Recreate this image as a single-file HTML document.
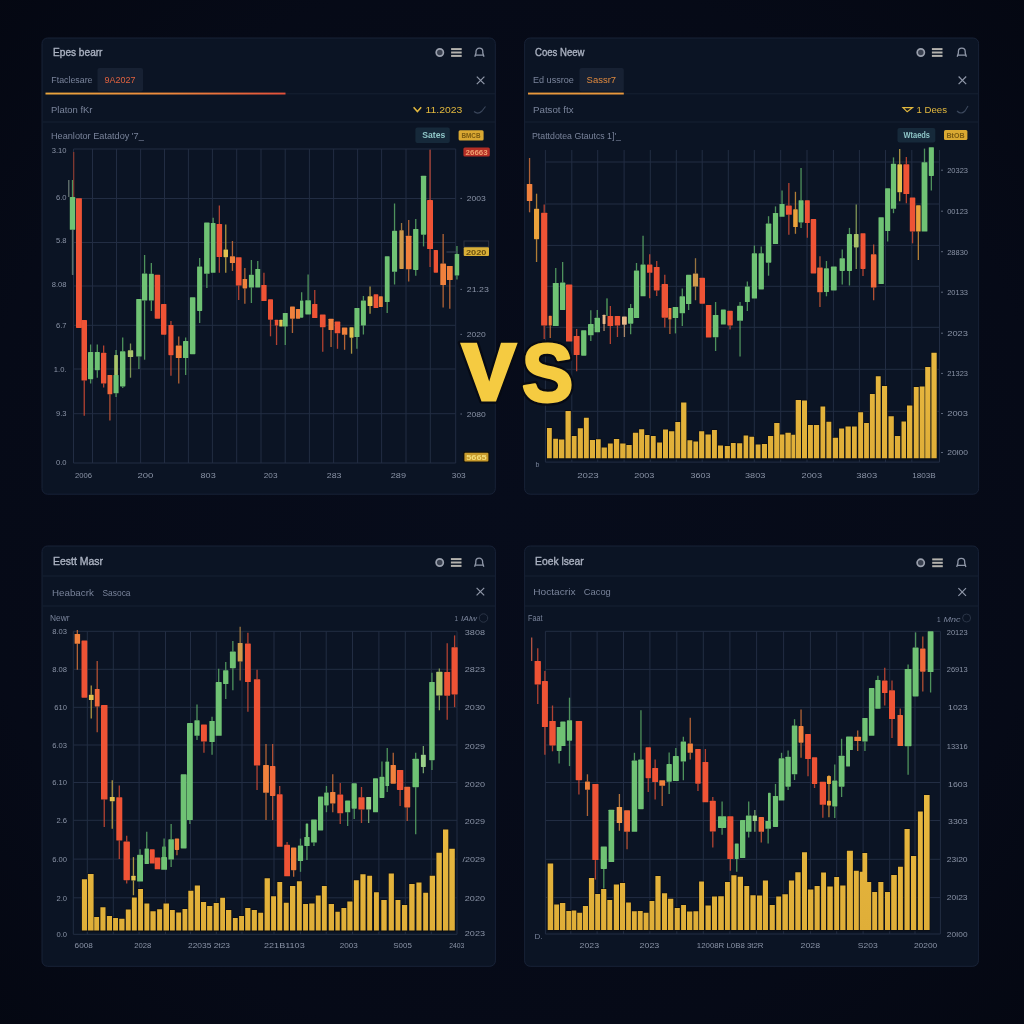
<!DOCTYPE html>
<html><head><meta charset="utf-8"><title>Chart comparison</title>
<style>html,body{margin:0;padding:0;background:#060a15;}body{width:1024px;height:1024px;overflow:hidden;font-family:"Liberation Sans",sans-serif;}svg{display:block;filter:blur(0.4px);}</style>
</head><body>
<svg width="1024" height="1024" viewBox="0 0 1024 1024" font-family="Liberation Sans, sans-serif">
<defs>
<radialGradient id="bgv" cx="50%" cy="50%" r="75%"><stop offset="0" stop-color="#070c1b"/><stop offset="0.7" stop-color="#060a17"/><stop offset="1" stop-color="#040711"/></radialGradient>
<linearGradient id="vg" x1="0" y1="0" x2="0" y2="1"><stop offset="0" stop-color="#e8b840"/><stop offset="1" stop-color="#dfae38"/></linearGradient>
<linearGradient id="ol" x1="0" y1="0" x2="1" y2="0"><stop offset="0" stop-color="#e9a53c"/><stop offset="0.5" stop-color="#ee8a3c"/><stop offset="1" stop-color="#e4503a"/></linearGradient>
</defs>
<rect width="1024" height="1024" fill="url(#bgv)"/>
<rect x="42" y="38" width="453.3" height="456.2" rx="5.5" fill="#0b1424" stroke="#182237" stroke-width="1"/>
<text x="53" y="55.6" font-size="10.3" fill="#aab1c0" text-anchor="start" font-weight="normal" textLength="49.5" lengthAdjust="spacingAndGlyphs" stroke="#aab1c0" stroke-width="0.35">Epes bearr</text>
<circle cx="439.8" cy="52.5" r="3.6" fill="#3a4150" stroke="#9aa0ad" stroke-width="1.7"/>
<path d="M451.1 49.1H461.7" stroke="#b5b3ae" stroke-width="2"/>
<path d="M451.1 52.5H461.7" stroke="#b5b3ae" stroke-width="2"/>
<path d="M451.1 55.9H461.7" stroke="#b5b3ae" stroke-width="2"/>
<path d="M474.8 56.7L476 53V51.5A3.4 3.4 0 0 1 482.8 51.5V53L484 56.7M474.8 55.1H484" stroke="#8f97a8" stroke-width="1.3" fill="none" stroke-linejoin="round"/>
<path d="M476.8 76.6L484.4 84.2M484.4 76.6L476.8 84.2" stroke="#8f97a8" stroke-width="1.2"/>
<rect x="97.5" y="68" width="45.5" height="23.5" rx="2" fill="#172133"/>
<text x="51.3" y="83.3" font-size="9.6" fill="#79839a" text-anchor="start" font-weight="normal" textLength="41.2" lengthAdjust="spacingAndGlyphs">Ftaclesare</text>
<text x="104.5" y="83.3" font-size="9" fill="#e0623f" text-anchor="start" font-weight="normal" textLength="31" lengthAdjust="spacingAndGlyphs">9A2027</text>
<path d="M45.5 93.8H495" stroke="#162033" stroke-width="1"/>
<rect x="45.5" y="92.6" width="240" height="1.9" fill="url(#ol)"/>
<text x="51" y="113" font-size="9.6" fill="#79839a" text-anchor="start" font-weight="normal" textLength="41.5" lengthAdjust="spacingAndGlyphs">Platon fKr</text>
<text x="425.5" y="113.2" font-size="9.6" fill="#e2b83e" text-anchor="start" font-weight="normal" textLength="36.8" lengthAdjust="spacingAndGlyphs">11.2023</text>
<path d="M413.6 107.2L417.4 111.6L421.2 107.2" stroke="#e2b83e" stroke-width="1.5" fill="none"/>
<path d="M474 111.5q4 3.5 8 -0.5l3.5 -4.5" stroke="#3b475c" stroke-width="1.1" fill="none"/>
<path d="M42.5 122H495" stroke="#162033" stroke-width="1"/>
<text x="51" y="139.2" font-size="9.3" fill="#79839a" text-anchor="start" font-weight="normal" textLength="92.8" lengthAdjust="spacingAndGlyphs">Heanlotor Eatatdoy '7_</text>
<rect x="415.4" y="127.6" width="34.4" height="15.4" rx="2" fill="#16293a"/>
<text x="422.3" y="138.3" font-size="8.4" fill="#8fc6c8" text-anchor="start" font-weight="bold" textLength="23" lengthAdjust="spacingAndGlyphs">Sates</text>
<rect x="458.6" y="130.2" width="25" height="10.2" rx="1.5" fill="#d9a832"/>
<text x="461.5" y="138.2" font-size="6.6" fill="#7a5a12" text-anchor="start" font-weight="bold" textLength="19" lengthAdjust="spacingAndGlyphs">BMCB</text>
<rect x="463.4" y="147.6" width="26.4" height="9" rx="1.5" fill="#b42e26"/>
<text x="465.6" y="155" font-size="6.6" fill="#f0a070" text-anchor="start" font-weight="bold" textLength="22" lengthAdjust="spacingAndGlyphs">26663</text>
<path d="M73.5 149V463M92.5 149V463M116.5 149V463M140.6 149V463M164.5 149V463M188.4 149V463M212.4 149V463M236.7 149V463M261 149V463M285.2 149V463M309.4 149V463M333.6 149V463M357.6 149V463M381.6 149V463M406 149V463M430.3 149V463M455.7 149V463M73.5 149H455.7M73.5 198.5H455.7M73.5 242.5H455.7M73.5 286H455.7M73.5 325.3H455.7M73.5 369H455.7M73.5 413.7H455.7M73.5 463H455.7" stroke="#222d43" stroke-width="1" fill="none"/>
<path d="M72.5 180V197" stroke="#5aa866" stroke-width="1.3" opacity="0.85"/>
<path d="M72.5 229.8V274.8" stroke="#5aa866" stroke-width="1.3" opacity="0.85"/>
<path d="M84.25 380.6V415.7" stroke="#cf4a34" stroke-width="1.3" opacity="0.85"/>
<path d="M90.6 344.5V351.9" stroke="#5aa866" stroke-width="1.3" opacity="0.85"/>
<path d="M90.6 379.2V383.5" stroke="#5aa866" stroke-width="1.3" opacity="0.85"/>
<path d="M97.3 344.5V351.9" stroke="#5aa866" stroke-width="1.3" opacity="0.85"/>
<path d="M97.3 370.2V377.7" stroke="#5aa866" stroke-width="1.3" opacity="0.85"/>
<path d="M103.65 345.4V352.7" stroke="#cf4a34" stroke-width="1.3" opacity="0.85"/>
<path d="M103.65 383.5V387.4" stroke="#cf4a34" stroke-width="1.3" opacity="0.85"/>
<path d="M109.9 394.3V420.6" stroke="#cf5a36" stroke-width="1.3" opacity="0.85"/>
<path d="M116.05 350V375" stroke="#5aa866" stroke-width="1.3" opacity="0.85"/>
<path d="M116.05 393.3V397" stroke="#5aa866" stroke-width="1.3" opacity="0.85"/>
<path d="M122.7 337.6V351.3" stroke="#5aa866" stroke-width="1.3" opacity="0.85"/>
<path d="M122.7 386.4V388" stroke="#5aa866" stroke-width="1.3" opacity="0.85"/>
<path d="M130.5 343.5V350.3" stroke="#93ab5e" stroke-width="1.3" opacity="0.85"/>
<path d="M130.5 357V377.7" stroke="#93ab5e" stroke-width="1.3" opacity="0.85"/>
<path d="M138.9 356.6V368.9" stroke="#5aa866" stroke-width="1.3" opacity="0.85"/>
<path d="M144.6 255V273.4" stroke="#5aa866" stroke-width="1.3" opacity="0.85"/>
<path d="M144.6 300.5V359.7" stroke="#5aa866" stroke-width="1.3" opacity="0.85"/>
<path d="M151.35 263V273.8" stroke="#5aa866" stroke-width="1.3" opacity="0.85"/>
<path d="M151.35 300.5V311" stroke="#5aa866" stroke-width="1.3" opacity="0.85"/>
<path d="M170.95 321V325" stroke="#cf4a34" stroke-width="1.3" opacity="0.85"/>
<path d="M170.95 355.2V375.7" stroke="#cf4a34" stroke-width="1.3" opacity="0.85"/>
<path d="M178.75 336.6V345.4" stroke="#cf7038" stroke-width="1.3" opacity="0.85"/>
<path d="M178.75 358.1V383.5" stroke="#cf7038" stroke-width="1.3" opacity="0.85"/>
<path d="M185.65 337.6V341" stroke="#5aa866" stroke-width="1.3" opacity="0.85"/>
<path d="M185.65 358V375" stroke="#5aa866" stroke-width="1.3" opacity="0.85"/>
<path d="M199.65 258V266.4" stroke="#5aa866" stroke-width="1.3" opacity="0.85"/>
<path d="M199.65 310.9V323" stroke="#5aa866" stroke-width="1.3" opacity="0.85"/>
<path d="M206.85 273.8V288" stroke="#5aa866" stroke-width="1.3" opacity="0.85"/>
<path d="M213.15 217.7V223" stroke="#5aa866" stroke-width="1.3" opacity="0.85"/>
<path d="M219.35 205.4V224" stroke="#cf4a34" stroke-width="1.3" opacity="0.85"/>
<path d="M219.35 257V272.8" stroke="#cf4a34" stroke-width="1.3" opacity="0.85"/>
<path d="M225.75 224.4V249.4" stroke="#c8ac48" stroke-width="1.3" opacity="0.85"/>
<path d="M225.75 257.2V272.8" stroke="#c8ac48" stroke-width="1.3" opacity="0.85"/>
<path d="M232.45 241V256.2" stroke="#cf7038" stroke-width="1.3" opacity="0.85"/>
<path d="M232.45 263V270.9" stroke="#cf7038" stroke-width="1.3" opacity="0.85"/>
<path d="M238.7 285.5V300" stroke="#cf4a34" stroke-width="1.3" opacity="0.85"/>
<path d="M244.85 268V279" stroke="#cf7038" stroke-width="1.3" opacity="0.85"/>
<path d="M244.85 288.4V303.7" stroke="#cf7038" stroke-width="1.3" opacity="0.85"/>
<path d="M251.4 260V274.8" stroke="#5aa866" stroke-width="1.3" opacity="0.85"/>
<path d="M251.4 287.5V303" stroke="#5aa866" stroke-width="1.3" opacity="0.85"/>
<path d="M257.75 261V268.9" stroke="#5aa866" stroke-width="1.3" opacity="0.85"/>
<path d="M263.95 272.8V284.9" stroke="#cf4a34" stroke-width="1.3" opacity="0.85"/>
<path d="M270.5 319.7V336.3" stroke="#cf4a34" stroke-width="1.3" opacity="0.85"/>
<path d="M276.55 325.5V345" stroke="#cf4a34" stroke-width="1.3" opacity="0.85"/>
<path d="M285.25 326.5V345" stroke="#5aa866" stroke-width="1.3" opacity="0.85"/>
<path d="M292.45 318.7V333" stroke="#cf7038" stroke-width="1.3" opacity="0.85"/>
<path d="M301.65 292.3V300.5" stroke="#5aa866" stroke-width="1.3" opacity="0.85"/>
<path d="M308.1 274.4V300.2" stroke="#5aa866" stroke-width="1.3" opacity="0.85"/>
<path d="M314.75 290V304" stroke="#cf4a34" stroke-width="1.3" opacity="0.85"/>
<path d="M322.75 327.3V351.8" stroke="#cf4a34" stroke-width="1.3" opacity="0.85"/>
<path d="M331.05 330V346.9" stroke="#cf7038" stroke-width="1.3" opacity="0.85"/>
<path d="M337.5 333.3V348.8" stroke="#cf4a34" stroke-width="1.3" opacity="0.85"/>
<path d="M344.6 334.8V349.8" stroke="#cf7038" stroke-width="1.3" opacity="0.85"/>
<path d="M351.55 337.7V353.7" stroke="#c8ac48" stroke-width="1.3" opacity="0.85"/>
<path d="M356.95 337V348.8" stroke="#5aa866" stroke-width="1.3" opacity="0.85"/>
<path d="M363.4 296V300.5" stroke="#5aa866" stroke-width="1.3" opacity="0.85"/>
<path d="M363.4 325.4V334.5" stroke="#5aa866" stroke-width="1.3" opacity="0.85"/>
<path d="M370.05 286.5V296.3" stroke="#c8ac48" stroke-width="1.3" opacity="0.85"/>
<path d="M370.05 306V313.8" stroke="#c8ac48" stroke-width="1.3" opacity="0.85"/>
<path d="M387.2 302.1V312.9" stroke="#5aa866" stroke-width="1.3" opacity="0.85"/>
<path d="M394.55 203.5V230.8" stroke="#5aa866" stroke-width="1.3" opacity="0.85"/>
<path d="M394.55 271.8V284.5" stroke="#5aa866" stroke-width="1.3" opacity="0.85"/>
<path d="M401.55 223V230.2" stroke="#b08444" stroke-width="1.3" opacity="0.85"/>
<path d="M408.7 220V235.7" stroke="#cf7038" stroke-width="1.3" opacity="0.85"/>
<path d="M408.7 269.3V281.6" stroke="#cf7038" stroke-width="1.3" opacity="0.85"/>
<path d="M415.75 219.1V228.9" stroke="#5aa866" stroke-width="1.3" opacity="0.85"/>
<path d="M415.75 269.9V275.7" stroke="#5aa866" stroke-width="1.3" opacity="0.85"/>
<path d="M423.55 234.7V246.4" stroke="#5aa866" stroke-width="1.3" opacity="0.85"/>
<path d="M430.05 149.8V200" stroke="#cf4a34" stroke-width="1.3" opacity="0.85"/>
<path d="M430.05 249V267" stroke="#cf4a34" stroke-width="1.3" opacity="0.85"/>
<path d="M443.15 234V263.5" stroke="#cf7038" stroke-width="1.3" opacity="0.85"/>
<path d="M443.15 285V307.5" stroke="#cf7038" stroke-width="1.3" opacity="0.85"/>
<path d="M449.8 280V308.7" stroke="#cf7038" stroke-width="1.3" opacity="0.85"/>
<path d="M456.95 246V254" stroke="#5aa866" stroke-width="1.3" opacity="0.85"/>
<path d="M456.95 275.5V279.4" stroke="#5aa866" stroke-width="1.3" opacity="0.85"/>
<path d="M73.7 152V197" stroke="#8a3a30" stroke-width="1.2"/>
<path d="M68.8 180V197" stroke="#6f7f78" stroke-width="1.2"/>
<path d="M72.7 230V275" stroke="#5c6870" stroke-width="1.2"/>
<rect x="69.8" y="197" width="5.4" height="32.8" rx="0.6" fill="#6fc274"/>
<rect x="76" y="198.2" width="5.9" height="129.7" rx="0.6" fill="#ee5335"/>
<rect x="81.5" y="320" width="5.5" height="60.6" rx="0.6" fill="#ee5335"/>
<rect x="88" y="351.9" width="5.2" height="27.3" rx="0.6" fill="#6fc274"/>
<rect x="94.8" y="351.9" width="5" height="18.3" rx="0.6" fill="#6fc274"/>
<rect x="101" y="352.7" width="5.3" height="30.8" rx="0.6" fill="#ee5335"/>
<rect x="107.5" y="375" width="4.8" height="19.3" rx="0.6" fill="#f0683a"/>
<rect x="113.5" y="375" width="5.1" height="18.3" rx="0.6" fill="#6fc274"/>
<rect x="114.2" y="355" width="3.7" height="20" rx="0.6" fill="#a9c46a"/>
<rect x="120" y="351.3" width="5.4" height="35.1" rx="0.6" fill="#6fc274"/>
<rect x="127.8" y="350.3" width="5.4" height="6.7" rx="0.6" fill="#a9c46a"/>
<rect x="136.2" y="299" width="5.4" height="57.6" rx="0.6" fill="#6fc274"/>
<rect x="141.9" y="273.4" width="5.4" height="27.1" rx="0.6" fill="#6fc274"/>
<rect x="148.9" y="273.8" width="4.9" height="26.7" rx="0.6" fill="#6fc274"/>
<rect x="154.7" y="274.8" width="5.5" height="43.9" rx="0.6" fill="#ee5335"/>
<rect x="161" y="304" width="5.4" height="30.7" rx="0.6" fill="#ee5335"/>
<rect x="168.4" y="325" width="5.1" height="30.2" rx="0.6" fill="#ee5335"/>
<rect x="175.8" y="345.4" width="5.9" height="12.7" rx="0.6" fill="#f0813d"/>
<rect x="183" y="341" width="5.3" height="17" rx="0.6" fill="#6fc274"/>
<rect x="189.9" y="297.2" width="5.5" height="57" rx="0.6" fill="#6fc274"/>
<rect x="197.1" y="266.4" width="5.1" height="44.5" rx="0.6" fill="#6fc274"/>
<rect x="204.1" y="222.6" width="5.5" height="51.2" rx="0.6" fill="#6fc274"/>
<rect x="210.8" y="223" width="4.7" height="49.8" rx="0.6" fill="#6fc274"/>
<rect x="216.6" y="224" width="5.5" height="33" rx="0.6" fill="#ee5335"/>
<rect x="223.5" y="249.4" width="4.5" height="7.8" rx="0.6" fill="#e3c350"/>
<rect x="229.9" y="256.2" width="5.1" height="6.8" rx="0.6" fill="#f0813d"/>
<rect x="235.8" y="257.2" width="5.8" height="28.3" rx="0.6" fill="#ee5335"/>
<rect x="242.6" y="279" width="4.5" height="9.4" rx="0.6" fill="#f0813d"/>
<rect x="248.9" y="274.8" width="5" height="12.7" rx="0.6" fill="#6fc274"/>
<rect x="255.3" y="268.9" width="4.9" height="18.6" rx="0.6" fill="#6fc274"/>
<rect x="261.3" y="284.9" width="5.3" height="16.2" rx="0.6" fill="#ee5335"/>
<rect x="268" y="299.2" width="5" height="20.5" rx="0.6" fill="#ee5335"/>
<rect x="274.8" y="319.7" width="3.5" height="5.8" rx="0.6" fill="#ee5335"/>
<rect x="279.3" y="319.7" width="3.3" height="6.8" rx="0.6" fill="#e3c350"/>
<rect x="282.8" y="312.9" width="4.9" height="13.6" rx="0.6" fill="#6fc274"/>
<rect x="290" y="306.6" width="4.9" height="12.1" rx="0.6" fill="#f0813d"/>
<rect x="295.9" y="309" width="4.3" height="9.7" rx="0.6" fill="#f0813d"/>
<rect x="300" y="300.5" width="3.3" height="17.2" rx="0.6" fill="#6fc274"/>
<rect x="305.3" y="300.2" width="5.6" height="14.2" rx="0.6" fill="#6fc274"/>
<rect x="312.1" y="304" width="5.3" height="14.1" rx="0.6" fill="#ee5335"/>
<rect x="319.9" y="314.4" width="5.7" height="12.9" rx="0.6" fill="#ee5335"/>
<rect x="328.5" y="318.7" width="5.1" height="11.3" rx="0.6" fill="#f0813d"/>
<rect x="334.7" y="321.6" width="5.6" height="11.7" rx="0.6" fill="#ee5335"/>
<rect x="341.9" y="327.4" width="5.4" height="7.4" rx="0.6" fill="#f0813d"/>
<rect x="349.5" y="327.2" width="4.1" height="10.5" rx="0.6" fill="#e3c350"/>
<rect x="354.4" y="308" width="5.1" height="29" rx="0.6" fill="#6fc274"/>
<rect x="360.9" y="300.5" width="5" height="24.9" rx="0.6" fill="#6fc274"/>
<rect x="367.6" y="296.3" width="4.9" height="9.7" rx="0.6" fill="#e3c350"/>
<rect x="373.6" y="294.3" width="4.7" height="13.7" rx="0.6" fill="#ee5335"/>
<rect x="378.9" y="296.3" width="3.9" height="10.7" rx="0.6" fill="#f0813d"/>
<rect x="384.8" y="256.2" width="4.8" height="45.9" rx="0.6" fill="#6fc274"/>
<rect x="392" y="230.8" width="5.1" height="41" rx="0.6" fill="#6fc274"/>
<rect x="399.4" y="230.2" width="4.3" height="38.7" rx="0.6" fill="#cf9a4c"/>
<rect x="405.9" y="235.7" width="5.6" height="33.6" rx="0.6" fill="#f0813d"/>
<rect x="413.1" y="228.9" width="5.3" height="41" rx="0.6" fill="#6fc274"/>
<rect x="420.9" y="175.7" width="5.3" height="59" rx="0.6" fill="#6fc274"/>
<rect x="427.1" y="200" width="5.9" height="49" rx="0.6" fill="#ee5335"/>
<rect x="433.7" y="250" width="4.3" height="22.7" rx="0.6" fill="#ee5335"/>
<rect x="440.3" y="263.5" width="5.7" height="21.5" rx="0.6" fill="#f0813d"/>
<rect x="446.9" y="266" width="5.8" height="14" rx="0.6" fill="#f0813d"/>
<rect x="454.7" y="254" width="4.5" height="21.5" rx="0.6" fill="#6fc274"/>
<text x="66.5" y="152.6" font-size="7.6" fill="#8a93a6" text-anchor="end" font-weight="normal">3.10</text>
<text x="66.5" y="199.8" font-size="7.6" fill="#8a93a6" text-anchor="end" font-weight="normal">6.0</text>
<text x="66.5" y="243" font-size="7.6" fill="#8a93a6" text-anchor="end" font-weight="normal">5.8</text>
<text x="66.5" y="287" font-size="7.6" fill="#8a93a6" text-anchor="end" font-weight="normal">8.08</text>
<text x="66.5" y="327.6" font-size="7.6" fill="#8a93a6" text-anchor="end" font-weight="normal">6.7</text>
<text x="66.5" y="371.5" font-size="7.6" fill="#8a93a6" text-anchor="end" font-weight="normal">1.0.</text>
<text x="66.5" y="416" font-size="7.6" fill="#8a93a6" text-anchor="end" font-weight="normal">9.3</text>
<text x="66.5" y="465.4" font-size="7.6" fill="#8a93a6" text-anchor="end" font-weight="normal">0.0</text>
<path d="M460.4 198.4H462" stroke="#5a6478" stroke-width="1"/>
<text x="466.8" y="201" font-size="7.8" fill="#8a93a6" text-anchor="start" font-weight="normal" textLength="19" lengthAdjust="spacingAndGlyphs">2003</text>
<path d="M460.4 289.4H462" stroke="#5a6478" stroke-width="1"/>
<text x="466.8" y="292" font-size="7.8" fill="#8a93a6" text-anchor="start" font-weight="normal" textLength="22" lengthAdjust="spacingAndGlyphs">21.23</text>
<path d="M460.4 334.4H462" stroke="#5a6478" stroke-width="1"/>
<text x="466.8" y="337" font-size="7.8" fill="#8a93a6" text-anchor="start" font-weight="normal" textLength="19" lengthAdjust="spacingAndGlyphs">2020</text>
<path d="M460.4 414H462" stroke="#5a6478" stroke-width="1"/>
<text x="466.8" y="416.6" font-size="7.8" fill="#8a93a6" text-anchor="start" font-weight="normal" textLength="19" lengthAdjust="spacingAndGlyphs">2080</text>
<rect x="464" y="241" width="24.6" height="6" fill="none" stroke="#2a3040" stroke-width="1"/>
<rect x="463.7" y="247.2" width="25.3" height="8.8" rx="1" fill="#d9b038"/>
<text x="466" y="254.6" font-size="6.8" fill="#6a5010" text-anchor="start" font-weight="bold" textLength="20.5" lengthAdjust="spacingAndGlyphs">2020</text>
<path d="M446.5 252H458" stroke="#3a4558" stroke-width="1"/>
<rect x="463.2" y="451.6" width="26.4" height="11" rx="1.5" fill="#11100c"/>
<rect x="464.4" y="452.8" width="24" height="8.6" rx="1" fill="#c79a2c"/>
<text x="466.2" y="460" font-size="6.8" fill="#f3dc78" text-anchor="start" font-weight="bold" textLength="20.5" lengthAdjust="spacingAndGlyphs">5665</text>
<text x="75" y="478.3" font-size="7.8" fill="#8a93a6" text-anchor="start" font-weight="normal" textLength="17" lengthAdjust="spacingAndGlyphs">2006</text>
<text x="137.5" y="478.3" font-size="7.8" fill="#8a93a6" text-anchor="start" font-weight="normal" textLength="15.9" lengthAdjust="spacingAndGlyphs">200</text>
<text x="200.6" y="478.3" font-size="7.8" fill="#8a93a6" text-anchor="start" font-weight="normal" textLength="15.1" lengthAdjust="spacingAndGlyphs">803</text>
<text x="263.8" y="478.3" font-size="7.8" fill="#8a93a6" text-anchor="start" font-weight="normal" textLength="13.7" lengthAdjust="spacingAndGlyphs">203</text>
<text x="326.8" y="478.3" font-size="7.8" fill="#8a93a6" text-anchor="start" font-weight="normal" textLength="14.6" lengthAdjust="spacingAndGlyphs">283</text>
<text x="390.8" y="478.3" font-size="7.8" fill="#8a93a6" text-anchor="start" font-weight="normal" textLength="15.2" lengthAdjust="spacingAndGlyphs">289</text>
<text x="451.8" y="478.3" font-size="7.8" fill="#8a93a6" text-anchor="start" font-weight="normal" textLength="13.8" lengthAdjust="spacingAndGlyphs">303</text>
<rect x="524.6" y="38" width="454" height="456.2" rx="5.5" fill="#0b1424" stroke="#182237" stroke-width="1"/>
<text x="535" y="55.6" font-size="10.3" fill="#aab1c0" text-anchor="start" font-weight="normal" textLength="49.5" lengthAdjust="spacingAndGlyphs" stroke="#aab1c0" stroke-width="0.35">Coes Neew</text>
<circle cx="920.8" cy="52.5" r="3.6" fill="#3a4150" stroke="#9aa0ad" stroke-width="1.7"/>
<path d="M931.9 49.1H942.5" stroke="#b5b3ae" stroke-width="2"/>
<path d="M931.9 52.5H942.5" stroke="#b5b3ae" stroke-width="2"/>
<path d="M931.9 55.9H942.5" stroke="#b5b3ae" stroke-width="2"/>
<path d="M957.2 56.7L958.4 53V51.5A3.4 3.4 0 0 1 965.2 51.5V53L966.4 56.7M957.2 55.1H966.4" stroke="#8f97a8" stroke-width="1.3" fill="none" stroke-linejoin="round"/>
<path d="M958.6 76.5L966.2 84.1M966.2 76.5L958.6 84.1" stroke="#8f97a8" stroke-width="1.2"/>
<rect x="579.5" y="68" width="44.3" height="23.5" rx="2" fill="#172133"/>
<text x="533" y="83.3" font-size="9.6" fill="#79839a" text-anchor="start" font-weight="normal" textLength="40.8" lengthAdjust="spacingAndGlyphs">Ed ussroe</text>
<text x="586.6" y="83.3" font-size="9" fill="#e08a3f" text-anchor="start" font-weight="normal" textLength="29.5" lengthAdjust="spacingAndGlyphs">Sassr7</text>
<path d="M528 93.8H978" stroke="#162033" stroke-width="1"/>
<rect x="528" y="92.6" width="95.8" height="1.9" fill="#e9983c"/>
<text x="533" y="113" font-size="9.6" fill="#79839a" text-anchor="start" font-weight="normal" textLength="40.5" lengthAdjust="spacingAndGlyphs">Patsot ftx</text>
<text x="916.5" y="113.2" font-size="9.6" fill="#e2b83e" text-anchor="start" font-weight="normal" textLength="30.5" lengthAdjust="spacingAndGlyphs">1 Dees</text>
<path d="M903 107.6H912.5L907.2 111.8Z" stroke="#e2b83e" stroke-width="1.2" fill="none"/>
<path d="M957 111q4 4 8 0l3 -5" stroke="#3b475c" stroke-width="1.1" fill="none"/>
<path d="M525 122H978" stroke="#162033" stroke-width="1"/>
<text x="532" y="139.2" font-size="9.3" fill="#79839a" text-anchor="start" font-weight="normal" textLength="89" lengthAdjust="spacingAndGlyphs">Ptattdotea Gtautcs 1]'_</text>
<rect x="897.5" y="128" width="37.8" height="14.6" rx="2" fill="#16293a"/>
<text x="903.5" y="138.4" font-size="8.2" fill="#8fc6c8" text-anchor="start" font-weight="bold" textLength="26.5" lengthAdjust="spacingAndGlyphs">Wtaeds</text>
<rect x="944" y="130" width="23.4" height="10" rx="1.5" fill="#d9a832"/>
<text x="946.5" y="137.8" font-size="6.6" fill="#7a5a12" text-anchor="start" font-weight="bold" textLength="18" lengthAdjust="spacingAndGlyphs">BtOB</text>
<path d="M545.4 150V462.1M571.8 150V462.1M597.7 150V462.1M624.1 150V462.1M650.3 150V462.1M676.3 150V462.1M702.2 150V462.1M728.3 150V462.1M754.3 150V462.1M780.7 150V462.1M807 150V462.1M833.4 150V462.1M859.4 150V462.1M885.5 150V462.1M911.8 150V462.1M939.5 150V462.1M545.4 162H939.5M545.4 204H939.5M545.4 245.4H939.5M545.4 286.3H939.5M545.4 327.3H939.5M545.4 369.3H939.5M545.4 411.3H939.5M545.4 462.1H939.5" stroke="#222d43" stroke-width="1" fill="none"/>
<path d="M546.4 427.1H552.4V459.4H546.4ZM552.6 437.9H558.7V459.4H552.6ZM558.4 438.8H564.9V459.4H558.4ZM564.9 410.1H571.4V459.4H564.9ZM571.2 435.3H577.2V459.4H571.2ZM577.2 427.5H583.5V459.4H577.2ZM583.3 417H589.4V459.4H583.3ZM589.3 439.2H595.6V459.4H589.3ZM595.4 438.5H601.3V459.4H595.4ZM601 446.7H607.5V459.4H601ZM607.3 442.8H613.4V459.4H607.3ZM613.3 438.2H619.8V459.4H613.3ZM619.6 442.8H626.1V459.4H619.6ZM625.8 444.2H632.3V459.4H625.8ZM632.3 432H638.8V459.4H632.3ZM638.5 428.5H644.8V459.4H638.5ZM644.4 434.2H650.1V459.4H644.4ZM650.3 435.3H656.3V459.4H650.3ZM656.5 441.8H662.6V459.4H656.5ZM662.4 428.7H668.6V459.4H662.4ZM668.4 430.5H674.9V459.4H668.4ZM674.7 421.2H680.8V459.4H674.7ZM680.5 401.7H687V459.4H680.5ZM686.8 439.4H692.9V459.4H686.8ZM692.8 440.8H698.7V459.4H692.8ZM698.5 430.5H704.8V459.4H698.5ZM704.9 433.6H711.4V459.4H704.9ZM711.4 429.1H717.5V459.4H711.4ZM717.4 444.7H723.6V459.4H717.4ZM724.2 445.3H730.5V459.4H724.2ZM730.3 442.2H736.3V459.4H730.3ZM736.5 442.4H742.8V459.4H736.5ZM743 434.6H748.8V459.4H743ZM748.8 435.9H754.7V459.4H748.8ZM755.1 443.7H761.1V459.4H755.1ZM761.3 443.1H767.6V459.4H761.3ZM767.4 435.3H773.8V459.4H767.4ZM773.6 422.2H780.1V459.4H773.6ZM779.4 433.6H785V459.4H779.4ZM784.8 432H791.4V459.4H784.8ZM790.8 434H795.7V459.4H790.8ZM795.1 399.2H801.6V459.4H795.1ZM801.4 399.8H807.6V459.4H801.4ZM807.4 424.2H813.5V459.4H807.4ZM813.3 424.2H819.7V459.4H813.3ZM819.9 405.6H825.8V459.4H819.9ZM825.8 420.9H831.9V459.4H825.8ZM832.2 436.9H838.7V459.4H832.2ZM838.5 427.7H844.7V459.4H838.5ZM844.9 425.6H851.4V459.4H844.9ZM851.4 425.7H857.4V459.4H851.4ZM857.6 411.5H863.7V459.4H857.6ZM863.5 422.2H869.5V459.4H863.5ZM869.3 393.3H875.4V459.4H869.3ZM875.2 375.4H881.3V459.4H875.2ZM881.4 385.1H887.7V459.4H881.4ZM887.9 415.4H894.4V459.4H887.9ZM894.3 435.3H900.8V459.4H894.3ZM900.9 420.7H906.6V459.4H900.9ZM906.4 404.7H912.9V459.4H906.4ZM913.2 386.1H919.3V459.4H913.2ZM919.1 385.7H925.2V459.4H919.1ZM924.6 366.2H931V459.4H924.6ZM930.8 351.9H937.3V459.4H930.8Z" fill="#0a0d14" opacity="0.85"/>
<path d="M547 427.9H551.8V458.2H547ZM553.2 438.7H558.1V458.2H553.2ZM559 439.6H564.3V458.2H559ZM565.5 410.9H570.8V458.2H565.5ZM571.8 436.1H576.6V458.2H571.8ZM577.8 428.3H582.9V458.2H577.8ZM583.9 417.8H588.8V458.2H583.9ZM589.9 440H595V458.2H589.9ZM596 439.3H600.7V458.2H596ZM601.6 447.5H606.9V458.2H601.6ZM607.9 443.6H612.8V458.2H607.9ZM613.9 439H619.2V458.2H613.9ZM620.2 443.6H625.5V458.2H620.2ZM626.4 445H631.7V458.2H626.4ZM632.9 432.8H638.2V458.2H632.9ZM639.1 429.3H644.2V458.2H639.1ZM645 435H649.5V458.2H645ZM650.9 436.1H655.7V458.2H650.9ZM657.1 442.6H662V458.2H657.1ZM663 429.5H668V458.2H663ZM669 431.3H674.3V458.2H669ZM675.3 422H680.2V458.2H675.3ZM681.1 402.5H686.4V458.2H681.1ZM687.4 440.2H692.3V458.2H687.4ZM693.4 441.6H698.1V458.2H693.4ZM699.1 431.3H704.2V458.2H699.1ZM705.5 434.4H710.8V458.2H705.5ZM712 429.9H716.9V458.2H712ZM718 445.5H723V458.2H718ZM724.8 446.1H729.9V458.2H724.8ZM730.9 443H735.7V458.2H730.9ZM737.1 443.2H742.2V458.2H737.1ZM743.6 435.4H748.2V458.2H743.6ZM749.4 436.7H754.1V458.2H749.4ZM755.7 444.5H760.5V458.2H755.7ZM761.9 443.9H767V458.2H761.9ZM768 436.1H773.2V458.2H768ZM774.2 423H779.5V458.2H774.2ZM780 434.4H784.4V458.2H780ZM785.4 432.8H790.8V458.2H785.4ZM791.4 434.8H795.1V458.2H791.4ZM795.7 400H801V458.2H795.7ZM802 400.6H807V458.2H802ZM808 425H812.9V458.2H808ZM813.9 425H819.1V458.2H813.9ZM820.5 406.4H825.2V458.2H820.5ZM826.4 421.7H831.3V458.2H826.4ZM832.8 437.7H838.1V458.2H832.8ZM839.1 428.5H844.1V458.2H839.1ZM845.5 426.4H850.8V458.2H845.5ZM852 426.5H856.8V458.2H852ZM858.2 412.3H863.1V458.2H858.2ZM864.1 423H868.9V458.2H864.1ZM869.9 394.1H874.8V458.2H869.9ZM875.8 376.2H880.7V458.2H875.8ZM882 385.9H887.1V458.2H882ZM888.5 416.2H893.8V458.2H888.5ZM894.9 436.1H900.2V458.2H894.9ZM901.5 421.5H906V458.2H901.5ZM907 405.5H912.3V458.2H907ZM913.8 386.9H918.7V458.2H913.8ZM919.7 386.5H924.6V458.2H919.7ZM925.2 367H930.4V458.2H925.2ZM931.4 352.7H936.7V458.2H931.4Z" fill="url(#vg)"/>
<path d="M529.55 158V184" stroke="#cf7038" stroke-width="1.3" opacity="0.85"/>
<path d="M529.55 201V212.3" stroke="#cf7038" stroke-width="1.3" opacity="0.85"/>
<path d="M536.55 193.7V208.8" stroke="#cf9038" stroke-width="1.3" opacity="0.85"/>
<path d="M536.55 239.2V262" stroke="#cf9038" stroke-width="1.3" opacity="0.85"/>
<path d="M544.2 204.5V212.7" stroke="#cf4a34" stroke-width="1.3" opacity="0.85"/>
<path d="M544.2 325.5V339" stroke="#cf4a34" stroke-width="1.3" opacity="0.85"/>
<path d="M550.25 325.5V338" stroke="#cf7038" stroke-width="1.3" opacity="0.85"/>
<path d="M555.75 268V283" stroke="#5aa866" stroke-width="1.3" opacity="0.85"/>
<path d="M562.65 262V282.6" stroke="#5aa866" stroke-width="1.3" opacity="0.85"/>
<path d="M576.65 329V336" stroke="#cf4a34" stroke-width="1.3" opacity="0.85"/>
<path d="M576.65 355V371.3" stroke="#cf4a34" stroke-width="1.3" opacity="0.85"/>
<path d="M590.8 310.3V324" stroke="#5aa866" stroke-width="1.3" opacity="0.85"/>
<path d="M590.8 335.3V341" stroke="#5aa866" stroke-width="1.3" opacity="0.85"/>
<path d="M597.3 310V317.7" stroke="#5aa866" stroke-width="1.3" opacity="0.85"/>
<path d="M604.05 324V331" stroke="#c49a74" stroke-width="1.3" opacity="0.85"/>
<path d="M610.35 306V315.9" stroke="#cf4a34" stroke-width="1.3" opacity="0.85"/>
<path d="M610.35 326V344" stroke="#cf4a34" stroke-width="1.3" opacity="0.85"/>
<path d="M617.45 325.6V337" stroke="#cf4a34" stroke-width="1.3" opacity="0.85"/>
<path d="M624.4 324.7V337" stroke="#c49a74" stroke-width="1.3" opacity="0.85"/>
<path d="M630.65 304V308" stroke="#5aa866" stroke-width="1.3" opacity="0.85"/>
<path d="M630.65 323.7V334.2" stroke="#5aa866" stroke-width="1.3" opacity="0.85"/>
<path d="M636.5 263V270.5" stroke="#5aa866" stroke-width="1.3" opacity="0.85"/>
<path d="M643.05 235.7V264.4" stroke="#5aa866" stroke-width="1.3" opacity="0.85"/>
<path d="M649.7 254.3V264.4" stroke="#cf4a34" stroke-width="1.3" opacity="0.85"/>
<path d="M649.7 272.8V298.2" stroke="#cf4a34" stroke-width="1.3" opacity="0.85"/>
<path d="M656.7 261V267" stroke="#cf4a34" stroke-width="1.3" opacity="0.85"/>
<path d="M656.7 290.4V296" stroke="#cf4a34" stroke-width="1.3" opacity="0.85"/>
<path d="M664.8 274.8V284.1" stroke="#cf4a34" stroke-width="1.3" opacity="0.85"/>
<path d="M664.8 317.7V327.4" stroke="#cf4a34" stroke-width="1.3" opacity="0.85"/>
<path d="M669.9 319.6V334" stroke="#cf7038" stroke-width="1.3" opacity="0.85"/>
<path d="M675.45 318.1V333.4" stroke="#5aa866" stroke-width="1.3" opacity="0.85"/>
<path d="M682.3 288.4V296.3" stroke="#5aa866" stroke-width="1.3" opacity="0.85"/>
<path d="M682.3 313.3V326" stroke="#5aa866" stroke-width="1.3" opacity="0.85"/>
<path d="M688.65 304V310" stroke="#5aa866" stroke-width="1.3" opacity="0.85"/>
<path d="M695.5 258.2V273.4" stroke="#b08444" stroke-width="1.3" opacity="0.85"/>
<path d="M695.5 286.5V300.2" stroke="#b08444" stroke-width="1.3" opacity="0.85"/>
<path d="M715.6 302V315" stroke="#5aa866" stroke-width="1.3" opacity="0.85"/>
<path d="M715.6 337.3V351" stroke="#5aa866" stroke-width="1.3" opacity="0.85"/>
<path d="M730.05 325.4V329.4" stroke="#cf4a34" stroke-width="1.3" opacity="0.85"/>
<path d="M740.05 302V305.7" stroke="#5aa866" stroke-width="1.3" opacity="0.85"/>
<path d="M740.05 320.8V356.6" stroke="#5aa866" stroke-width="1.3" opacity="0.85"/>
<path d="M747.35 281.6V286.5" stroke="#5aa866" stroke-width="1.3" opacity="0.85"/>
<path d="M747.35 302.1V311" stroke="#5aa866" stroke-width="1.3" opacity="0.85"/>
<path d="M754.4 245.5V253.3" stroke="#5aa866" stroke-width="1.3" opacity="0.85"/>
<path d="M761.25 246.4V253.3" stroke="#5aa866" stroke-width="1.3" opacity="0.85"/>
<path d="M768.55 216.2V223.6" stroke="#5aa866" stroke-width="1.3" opacity="0.85"/>
<path d="M768.55 262.7V275.7" stroke="#5aa866" stroke-width="1.3" opacity="0.85"/>
<path d="M775.5 206.4V212.9" stroke="#5aa866" stroke-width="1.3" opacity="0.85"/>
<path d="M782.05 190.4V204" stroke="#5aa866" stroke-width="1.3" opacity="0.85"/>
<path d="M788.85 183V205.4" stroke="#cf4a34" stroke-width="1.3" opacity="0.85"/>
<path d="M788.85 214.8V234.7" stroke="#cf4a34" stroke-width="1.3" opacity="0.85"/>
<path d="M795.45 191.8V209.3" stroke="#cf9038" stroke-width="1.3" opacity="0.85"/>
<path d="M795.45 227V233.8" stroke="#cf9038" stroke-width="1.3" opacity="0.85"/>
<path d="M801.05 168V200.2" stroke="#5aa866" stroke-width="1.3" opacity="0.85"/>
<path d="M801.05 222.4V228" stroke="#5aa866" stroke-width="1.3" opacity="0.85"/>
<path d="M807.35 223V237.7" stroke="#cf4a34" stroke-width="1.3" opacity="0.85"/>
<path d="M819.95 256.2V267.5" stroke="#cf5a36" stroke-width="1.3" opacity="0.85"/>
<path d="M819.95 292.3V307" stroke="#cf5a36" stroke-width="1.3" opacity="0.85"/>
<path d="M826.45 261V268.3" stroke="#5aa866" stroke-width="1.3" opacity="0.85"/>
<path d="M826.45 292V296.3" stroke="#5aa866" stroke-width="1.3" opacity="0.85"/>
<path d="M842.25 249.4V258.2" stroke="#5aa866" stroke-width="1.3" opacity="0.85"/>
<path d="M842.25 270.9V284.5" stroke="#5aa866" stroke-width="1.3" opacity="0.85"/>
<path d="M849.45 227.9V234.1" stroke="#5aa866" stroke-width="1.3" opacity="0.85"/>
<path d="M849.45 270.9V285.5" stroke="#5aa866" stroke-width="1.3" opacity="0.85"/>
<path d="M856.25 204.5V234.1" stroke="#93ab5e" stroke-width="1.3" opacity="0.85"/>
<path d="M856.25 247.4V268.9" stroke="#93ab5e" stroke-width="1.3" opacity="0.85"/>
<path d="M863 268.9V276" stroke="#cf4a34" stroke-width="1.3" opacity="0.85"/>
<path d="M873.65 244.5V254.3" stroke="#cf5a36" stroke-width="1.3" opacity="0.85"/>
<path d="M873.65 287.5V300.2" stroke="#cf5a36" stroke-width="1.3" opacity="0.85"/>
<path d="M887.65 231V241.5" stroke="#5aa866" stroke-width="1.3" opacity="0.85"/>
<path d="M893.5 157.4V163.8" stroke="#5aa866" stroke-width="1.3" opacity="0.85"/>
<path d="M893.5 208.8V213.2" stroke="#5aa866" stroke-width="1.3" opacity="0.85"/>
<path d="M899.7 149V164.3" stroke="#c8ac48" stroke-width="1.3" opacity="0.85"/>
<path d="M899.7 192.3V201.3" stroke="#c8ac48" stroke-width="1.3" opacity="0.85"/>
<path d="M906.35 157V164.2" stroke="#cf4a34" stroke-width="1.3" opacity="0.85"/>
<path d="M906.35 194V203.2" stroke="#cf4a34" stroke-width="1.3" opacity="0.85"/>
<path d="M912.55 231.6V243.3" stroke="#cf4a34" stroke-width="1.3" opacity="0.85"/>
<path d="M918.35 231.6V259.9" stroke="#cf9038" stroke-width="1.3" opacity="0.85"/>
<path d="M924.5 148.6V162.2" stroke="#5aa866" stroke-width="1.3" opacity="0.85"/>
<path d="M931.35 175.9V190.5" stroke="#5aa866" stroke-width="1.3" opacity="0.85"/>
<rect x="526.8" y="184" width="5.5" height="17" rx="0.6" fill="#f0813d"/>
<rect x="534" y="208.8" width="5.1" height="30.4" rx="0.6" fill="#eba23c"/>
<rect x="541.1" y="212.7" width="6.2" height="112.8" rx="0.6" fill="#ee5335"/>
<rect x="548.7" y="315.8" width="3.1" height="9.7" rx="0.6" fill="#f0813d"/>
<rect x="552.8" y="283" width="5.9" height="43" rx="0.6" fill="#6fc274"/>
<rect x="560" y="282.6" width="5.3" height="27.4" rx="0.6" fill="#6fc274"/>
<rect x="566" y="284.5" width="6.3" height="57.1" rx="0.6" fill="#ee5335"/>
<rect x="573.7" y="336" width="5.9" height="19" rx="0.6" fill="#ee5335"/>
<rect x="581.1" y="330.3" width="5.3" height="25.4" rx="0.6" fill="#6fc274"/>
<rect x="588" y="324" width="5.6" height="11.3" rx="0.6" fill="#6fc274"/>
<rect x="594.6" y="317.7" width="5.4" height="14.6" rx="0.6" fill="#6fc274"/>
<rect x="602.6" y="314.7" width="2.9" height="9.3" rx="0.6" fill="#eab98a"/>
<rect x="606.3" y="298.2" width="1.4" height="17.8" rx="0.6" fill="#4f9a5c"/>
<rect x="607.5" y="315.9" width="5.7" height="10.1" rx="0.6" fill="#ee5335"/>
<rect x="614.7" y="315.9" width="5.5" height="9.7" rx="0.6" fill="#ee5335"/>
<rect x="622" y="316.4" width="4.8" height="8.3" rx="0.6" fill="#eab98a"/>
<rect x="628" y="308" width="5.3" height="15.7" rx="0.6" fill="#6fc274"/>
<rect x="633.9" y="270.5" width="5.2" height="47.6" rx="0.6" fill="#6fc274"/>
<rect x="640.5" y="264.4" width="5.1" height="31.9" rx="0.6" fill="#6fc274"/>
<rect x="647" y="264.4" width="5.4" height="8.4" rx="0.6" fill="#ee5335"/>
<rect x="653.8" y="267" width="5.8" height="23.4" rx="0.6" fill="#ee5335"/>
<rect x="661.6" y="284.1" width="6.4" height="33.6" rx="0.6" fill="#ee5335"/>
<rect x="668.4" y="308" width="3" height="11.6" rx="0.6" fill="#f0813d"/>
<rect x="672.7" y="307" width="5.5" height="11.1" rx="0.6" fill="#6fc274"/>
<rect x="679.6" y="296.3" width="5.4" height="17" rx="0.6" fill="#6fc274"/>
<rect x="686" y="274.8" width="5.3" height="29.2" rx="0.6" fill="#6fc274"/>
<rect x="692.9" y="273.4" width="5.2" height="13.1" rx="0.6" fill="#cf9a4c"/>
<rect x="699.5" y="277.7" width="5.5" height="26" rx="0.6" fill="#ee5335"/>
<rect x="705.9" y="305" width="5.5" height="32.6" rx="0.6" fill="#ee5335"/>
<rect x="712.8" y="315" width="5.6" height="22.3" rx="0.6" fill="#6fc274"/>
<rect x="720.9" y="309.5" width="4.9" height="15" rx="0.6" fill="#6fc274"/>
<rect x="727.3" y="310.8" width="5.5" height="14.6" rx="0.6" fill="#ee5335"/>
<rect x="737.1" y="305.7" width="5.9" height="15.1" rx="0.6" fill="#6fc274"/>
<rect x="744.9" y="286.5" width="4.9" height="15.6" rx="0.6" fill="#6fc274"/>
<rect x="751.8" y="253.3" width="5.2" height="45.3" rx="0.6" fill="#6fc274"/>
<rect x="758.6" y="253.3" width="5.3" height="36.1" rx="0.6" fill="#6fc274"/>
<rect x="765.8" y="223.6" width="5.5" height="39.1" rx="0.6" fill="#6fc274"/>
<rect x="772.9" y="212.9" width="5.2" height="31.2" rx="0.6" fill="#6fc274"/>
<rect x="779.5" y="204" width="5.1" height="12.8" rx="0.6" fill="#6fc274"/>
<rect x="785.9" y="205.4" width="5.9" height="9.4" rx="0.6" fill="#ee5335"/>
<rect x="793.2" y="209.3" width="4.5" height="17.7" rx="0.6" fill="#eba23c"/>
<rect x="798.6" y="200.2" width="4.9" height="22.2" rx="0.6" fill="#6fc274"/>
<rect x="804.9" y="200.2" width="4.9" height="22.8" rx="0.6" fill="#ee5335"/>
<rect x="810.7" y="219.1" width="5.5" height="54.3" rx="0.6" fill="#ee5335"/>
<rect x="817.2" y="267.5" width="5.5" height="24.8" rx="0.6" fill="#f0683a"/>
<rect x="824" y="268.3" width="4.9" height="23.7" rx="0.6" fill="#6fc274"/>
<rect x="830.9" y="266.6" width="5.8" height="23.8" rx="0.6" fill="#6fc274"/>
<rect x="839.6" y="258.2" width="5.3" height="12.7" rx="0.6" fill="#6fc274"/>
<rect x="846.9" y="234.1" width="5.1" height="36.8" rx="0.6" fill="#6fc274"/>
<rect x="853.9" y="234.1" width="4.7" height="13.3" rx="0.6" fill="#a9c46a"/>
<rect x="860.5" y="233.2" width="5" height="35.7" rx="0.6" fill="#ee5335"/>
<rect x="870.9" y="254.3" width="5.5" height="33.2" rx="0.6" fill="#f0683a"/>
<rect x="878.5" y="217.2" width="5.3" height="66.8" rx="0.6" fill="#6fc274"/>
<rect x="885.1" y="188.3" width="5.1" height="42.7" rx="0.6" fill="#6fc274"/>
<rect x="890.9" y="163.8" width="5.2" height="45" rx="0.6" fill="#6fc274"/>
<rect x="897.4" y="164.3" width="4.6" height="28" rx="0.6" fill="#e3c350"/>
<rect x="903.4" y="164.2" width="5.9" height="29.8" rx="0.6" fill="#ee5335"/>
<rect x="909.8" y="197.4" width="5.5" height="34.2" rx="0.6" fill="#ee5335"/>
<rect x="916.1" y="205.2" width="4.5" height="26.4" rx="0.6" fill="#eba23c"/>
<rect x="921.6" y="162.2" width="5.8" height="69.4" rx="0.6" fill="#6fc274"/>
<rect x="928.8" y="147.2" width="5.1" height="28.7" rx="0.6" fill="#6fc274"/>
<path d="M941 170.2H943" stroke="#5a6478" stroke-width="1"/>
<text x="947.2" y="173" font-size="7.8" fill="#8a93a6" text-anchor="start" font-weight="normal" textLength="20.8" lengthAdjust="spacingAndGlyphs">20323</text>
<path d="M941 211.2H943" stroke="#5a6478" stroke-width="1"/>
<text x="947.2" y="214" font-size="7.8" fill="#8a93a6" text-anchor="start" font-weight="normal" textLength="20.8" lengthAdjust="spacingAndGlyphs">00123</text>
<path d="M941 251.7H943" stroke="#5a6478" stroke-width="1"/>
<text x="947.2" y="254.5" font-size="7.8" fill="#8a93a6" text-anchor="start" font-weight="normal" textLength="20.8" lengthAdjust="spacingAndGlyphs">28830</text>
<path d="M941 292.2H943" stroke="#5a6478" stroke-width="1"/>
<text x="947.2" y="295" font-size="7.8" fill="#8a93a6" text-anchor="start" font-weight="normal" textLength="20.8" lengthAdjust="spacingAndGlyphs">20133</text>
<path d="M941 333.2H943" stroke="#5a6478" stroke-width="1"/>
<text x="947.2" y="336" font-size="7.8" fill="#8a93a6" text-anchor="start" font-weight="normal" textLength="20.8" lengthAdjust="spacingAndGlyphs">2023</text>
<path d="M941 373.4H943" stroke="#5a6478" stroke-width="1"/>
<text x="947.2" y="376.2" font-size="7.8" fill="#8a93a6" text-anchor="start" font-weight="normal" textLength="20.8" lengthAdjust="spacingAndGlyphs">21323</text>
<path d="M941 413.5H943" stroke="#5a6478" stroke-width="1"/>
<text x="947.2" y="416.3" font-size="7.8" fill="#8a93a6" text-anchor="start" font-weight="normal" textLength="20.8" lengthAdjust="spacingAndGlyphs">2003</text>
<path d="M941 452.5H943" stroke="#5a6478" stroke-width="1"/>
<text x="947.2" y="455.3" font-size="7.8" fill="#8a93a6" text-anchor="start" font-weight="normal" textLength="20.8" lengthAdjust="spacingAndGlyphs">20l00</text>
<text x="577.2" y="478.2" font-size="7.8" fill="#8a93a6" text-anchor="start" font-weight="normal" textLength="21.5" lengthAdjust="spacingAndGlyphs">2023</text>
<text x="634.3" y="478.2" font-size="7.8" fill="#8a93a6" text-anchor="start" font-weight="normal" textLength="20.1" lengthAdjust="spacingAndGlyphs">2003</text>
<text x="690.5" y="478.2" font-size="7.8" fill="#8a93a6" text-anchor="start" font-weight="normal" textLength="19.9" lengthAdjust="spacingAndGlyphs">3603</text>
<text x="745" y="478.2" font-size="7.8" fill="#8a93a6" text-anchor="start" font-weight="normal" textLength="20.4" lengthAdjust="spacingAndGlyphs">3803</text>
<text x="801.6" y="478.2" font-size="7.8" fill="#8a93a6" text-anchor="start" font-weight="normal" textLength="20.4" lengthAdjust="spacingAndGlyphs">2003</text>
<text x="856.3" y="478.2" font-size="7.8" fill="#8a93a6" text-anchor="start" font-weight="normal" textLength="20.8" lengthAdjust="spacingAndGlyphs">3803</text>
<text x="912.3" y="478.2" font-size="7.8" fill="#8a93a6" text-anchor="start" font-weight="normal" textLength="23.4" lengthAdjust="spacingAndGlyphs">1803B</text>
<text x="535.6" y="466.6" font-size="7" fill="#79839a" text-anchor="start" font-weight="normal">b</text>
<rect x="42" y="546" width="453.4" height="420.3" rx="5.5" fill="#0b1424" stroke="#182237" stroke-width="1"/>
<text x="53" y="565.4" font-size="10.3" fill="#aab1c0" text-anchor="start" font-weight="normal" textLength="50" lengthAdjust="spacingAndGlyphs" stroke="#aab1c0" stroke-width="0.35">Eestt Masr</text>
<circle cx="439.7" cy="562.5" r="3.6" fill="#3a4150" stroke="#9aa0ad" stroke-width="1.7"/>
<path d="M450.9 559.1H461.5" stroke="#b5b3ae" stroke-width="2"/>
<path d="M450.9 562.5H461.5" stroke="#b5b3ae" stroke-width="2"/>
<path d="M450.9 565.9H461.5" stroke="#b5b3ae" stroke-width="2"/>
<path d="M474.6 566.7L475.8 563V561.5A3.4 3.4 0 0 1 482.6 561.5V563L483.8 566.7M474.6 565.1H483.8" stroke="#8f97a8" stroke-width="1.3" fill="none" stroke-linejoin="round"/>
<path d="M476.6 587.8L484.2 595.4M484.2 587.8L476.6 595.4" stroke="#8f97a8" stroke-width="1.2"/>
<path d="M42.5 576H495" stroke="#162033" stroke-width="1"/>
<text x="52" y="595.6" font-size="9.8" fill="#79839a" text-anchor="start" font-weight="normal" textLength="41.8" lengthAdjust="spacingAndGlyphs">Heabacrk</text>
<text x="102.5" y="595.6" font-size="9.8" fill="#79839a" text-anchor="start" font-weight="normal" textLength="28" lengthAdjust="spacingAndGlyphs">Sasoca</text>
<path d="M42.5 606H495" stroke="#162033" stroke-width="1"/>
<text x="50" y="621.4" font-size="8.6" fill="#79839a" text-anchor="start" font-weight="normal" textLength="19.5" lengthAdjust="spacingAndGlyphs">Newr</text>
<text x="454.6" y="621" font-size="6.5" fill="#79839a" text-anchor="start" font-weight="normal">1</text>
<text x="461" y="621.2" font-size="7.6" fill="#79839a" text-anchor="start" font-weight="normal" textLength="16" lengthAdjust="spacingAndGlyphs" font-style="italic">IAlw</text>
<circle cx="483.5" cy="618" r="4.2" fill="none" stroke="#2a3446" stroke-width="1"/>
<path d="M73.3 631.3V934.3M87.3 631.3V934.3M113.3 631.3V934.3M139.1 631.3V934.3M165.5 631.3V934.3M190.5 631.3V934.3M216.3 631.3V934.3M242 631.3V934.3M274 631.3V934.3M300.4 631.3V934.3M326.2 631.3V934.3M352.5 631.3V934.3M378.9 631.3V934.3M405.3 631.3V934.3M431.3 631.3V934.3M457 631.3V934.3M73.3 631.3H457M73.3 669.3H457M73.3 707.3H457M73.3 745H457M73.3 782.5H457M73.3 820.3H457M73.3 859.1H457M73.3 897.8H457M73.3 934.3H457" stroke="#222d43" stroke-width="1" fill="none"/>
<path d="M81.3 878.4H87.6V931.7H81.3ZM87.3 873.3H94.2V931.7H87.3ZM93.6 916.3H99.7V931.7H93.6ZM99.8 906.5H106.1V931.7H99.8ZM106.3 915.3H112.6V931.7H106.3ZM112.5 917.3H118.6V931.7H112.5ZM118.6 917.9H125.1V931.7H118.6ZM125.2 908.7H131.3V931.7H125.2ZM131.3 896.8H137.4V931.7H131.3ZM137.5 888.2H143.6V931.7H137.5ZM143.8 902.6H149.9V931.7H143.8ZM149.8 910.5H156.3V931.7H149.8ZM156.5 908.5H162.7V931.7H156.5ZM162.9 902.8H169.6V931.7H162.9ZM169.4 909.1H175.4V931.7H169.4ZM175.6 911.6H181.7V931.7H175.6ZM181.9 908.1H187.9V931.7H181.9ZM187.7 889.9H194V931.7H187.7ZM194.2 884.7H200.6V931.7H194.2ZM200.4 901.3H206.7V931.7H200.4ZM206.5 905.2H212.9V931.7H206.5ZM213.1 902.2H219.4V931.7H213.1ZM219.6 897H225.6V931.7H219.6ZM225.4 909.1H231.9V931.7H225.4ZM232.3 917.3H238.3V931.7H232.3ZM238.5 915.3H244.6V931.7H238.5ZM244.6 907.1H251V931.7H244.6ZM251.2 909.1H257.5V931.7H251.2ZM257.6 912H263.7V931.7H257.6ZM264 877.4H270.5V931.7H264ZM270.5 895.4H276.6V931.7H270.5ZM276.7 881.3H282.8V931.7H276.7ZM283.2 901.9H289.3V931.7H283.2ZM289.4 885.3H295.9V931.7H289.4ZM296.3 880.4H302.4V931.7H296.3ZM302.5 903.2H308.6V931.7H302.5ZM308.6 902.8H315.1V931.7H308.6ZM315.2 894.8H321.3V931.7H315.2ZM321.3 885.3H327.4V931.7H321.3ZM328.1 903.2H334.6V931.7H328.1ZM334.8 911H340.4V931.7H334.8ZM340.8 907.1H346.9V931.7H340.8ZM346.7 900.7H353.1V931.7H346.7ZM353.3 879.4H359.4V931.7H353.3ZM359.8 873.5H366.2V931.7H359.8ZM366.6 874.9H372.7V931.7H366.6ZM373.4 891.5H379.5V931.7H373.4ZM380.7 899.3H387.3V931.7H380.7ZM388.1 872.6H394.5V931.7H388.1ZM394.9 899.3H401V931.7H394.9ZM401.4 904.2H407.8V931.7H401.4ZM408.6 883.1H415.2V931.7H408.6ZM415.8 881.7H422.1V931.7H415.8ZM422.6 891.9H428.7V931.7H422.6ZM429.1 874.9H435.6V931.7H429.1ZM435.8 852H442.4V931.7H435.8ZM442.4 828.7H448.9V931.7H442.4ZM448.7 847.9H455.4V931.7H448.7Z" fill="#0a0d14" opacity="0.85"/>
<path d="M81.9 879.2H87V930.5H81.9ZM87.9 874.1H93.6V930.5H87.9ZM94.2 917.1H99.1V930.5H94.2ZM100.4 907.3H105.5V930.5H100.4ZM106.9 916.1H112V930.5H106.9ZM113.1 918.1H118V930.5H113.1ZM119.2 918.7H124.5V930.5H119.2ZM125.8 909.5H130.7V930.5H125.8ZM131.9 897.6H136.8V930.5H131.9ZM138.1 889H143V930.5H138.1ZM144.4 903.4H149.3V930.5H144.4ZM150.4 911.3H155.7V930.5H150.4ZM157.1 909.3H162.1V930.5H157.1ZM163.5 903.6H169V930.5H163.5ZM170 909.9H174.8V930.5H170ZM176.2 912.4H181.1V930.5H176.2ZM182.5 908.9H187.3V930.5H182.5ZM188.3 890.7H193.4V930.5H188.3ZM194.8 885.5H200V930.5H194.8ZM201 902.1H206.1V930.5H201ZM207.1 906H212.3V930.5H207.1ZM213.7 903H218.8V930.5H213.7ZM220.2 897.8H225V930.5H220.2ZM226 909.9H231.3V930.5H226ZM232.9 918.1H237.7V930.5H232.9ZM239.1 916.1H244V930.5H239.1ZM245.2 907.9H250.4V930.5H245.2ZM251.8 909.9H256.9V930.5H251.8ZM258.2 912.8H263.1V930.5H258.2ZM264.6 878.2H269.9V930.5H264.6ZM271.1 896.2H276V930.5H271.1ZM277.3 882.1H282.2V930.5H277.3ZM283.8 902.7H288.7V930.5H283.8ZM290 886.1H295.3V930.5H290ZM296.9 881.2H301.8V930.5H296.9ZM303.1 904H308V930.5H303.1ZM309.2 903.6H314.5V930.5H309.2ZM315.8 895.6H320.7V930.5H315.8ZM321.9 886.1H326.8V930.5H321.9ZM328.7 904H334V930.5H328.7ZM335.4 911.8H339.8V930.5H335.4ZM341.4 907.9H346.3V930.5H341.4ZM347.3 901.5H352.5V930.5H347.3ZM353.9 880.2H358.8V930.5H353.9ZM360.4 874.3H365.6V930.5H360.4ZM367.2 875.7H372.1V930.5H367.2ZM374 892.3H378.9V930.5H374ZM381.3 900.1H386.7V930.5H381.3ZM388.7 873.4H393.9V930.5H388.7ZM395.5 900.1H400.4V930.5H395.5ZM402 905H407.2V930.5H402ZM409.2 883.9H414.6V930.5H409.2ZM416.4 882.5H421.5V930.5H416.4ZM423.2 892.7H428.1V930.5H423.2ZM429.7 875.7H435V930.5H429.7ZM436.4 852.8H441.8V930.5H436.4ZM443 829.5H448.3V930.5H443ZM449.3 848.7H454.8V930.5H449.3Z" fill="url(#vg)"/>
<path d="M77.35 630V634" stroke="#cf7038" stroke-width="1.3" opacity="0.85"/>
<path d="M77.35 643.8V669.8" stroke="#cf7038" stroke-width="1.3" opacity="0.85"/>
<path d="M91.25 685.4V694.8" stroke="#c8ac48" stroke-width="1.3" opacity="0.85"/>
<path d="M91.25 700V718.6" stroke="#c8ac48" stroke-width="1.3" opacity="0.85"/>
<path d="M97.2 661V689" stroke="#cf5a36" stroke-width="1.3" opacity="0.85"/>
<path d="M97.2 706.5V732.3" stroke="#cf5a36" stroke-width="1.3" opacity="0.85"/>
<path d="M104.25 799.6V826.9" stroke="#cf4a34" stroke-width="1.3" opacity="0.85"/>
<path d="M112.25 780.2V797" stroke="#c8ac48" stroke-width="1.3" opacity="0.85"/>
<path d="M112.25 801.3V828.8" stroke="#c8ac48" stroke-width="1.3" opacity="0.85"/>
<path d="M119.3 785.5V797.2" stroke="#cf4a34" stroke-width="1.3" opacity="0.85"/>
<path d="M119.3 840.5V859" stroke="#cf4a34" stroke-width="1.3" opacity="0.85"/>
<path d="M126.7 835.7V841.5" stroke="#cf4a34" stroke-width="1.3" opacity="0.85"/>
<path d="M126.7 880.2V883.5" stroke="#cf4a34" stroke-width="1.3" opacity="0.85"/>
<path d="M133.45 857.1V875.7" stroke="#c8ac48" stroke-width="1.3" opacity="0.85"/>
<path d="M133.45 880.6V895.2" stroke="#c8ac48" stroke-width="1.3" opacity="0.85"/>
<path d="M140.05 849.3V854.8" stroke="#5aa866" stroke-width="1.3" opacity="0.85"/>
<path d="M146.75 831.8V848.4" stroke="#5aa866" stroke-width="1.3" opacity="0.85"/>
<path d="M164.1 838.6V857.1" stroke="#5aa866" stroke-width="1.3" opacity="0.85"/>
<path d="M171.15 823.9V839.2" stroke="#5aa866" stroke-width="1.3" opacity="0.85"/>
<path d="M171.15 859.5V866.9" stroke="#5aa866" stroke-width="1.3" opacity="0.85"/>
<path d="M176.95 849.9V855.2" stroke="#cf7038" stroke-width="1.3" opacity="0.85"/>
<path d="M189.9 820V824" stroke="#5aa866" stroke-width="1.3" opacity="0.85"/>
<path d="M197 704.4V720.2" stroke="#5aa866" stroke-width="1.3" opacity="0.85"/>
<path d="M197 735.8V740" stroke="#5aa866" stroke-width="1.3" opacity="0.85"/>
<path d="M203.95 741.5V752.8" stroke="#cf4a34" stroke-width="1.3" opacity="0.85"/>
<path d="M212.05 716.7V721" stroke="#5aa866" stroke-width="1.3" opacity="0.85"/>
<path d="M212.05 742V754.8" stroke="#5aa866" stroke-width="1.3" opacity="0.85"/>
<path d="M218.7 668.8V682.1" stroke="#5aa866" stroke-width="1.3" opacity="0.85"/>
<path d="M225.75 662V670.2" stroke="#5aa866" stroke-width="1.3" opacity="0.85"/>
<path d="M225.75 684V699" stroke="#5aa866" stroke-width="1.3" opacity="0.85"/>
<path d="M232.85 641V651.6" stroke="#5aa866" stroke-width="1.3" opacity="0.85"/>
<path d="M232.85 668.2V690.3" stroke="#5aa866" stroke-width="1.3" opacity="0.85"/>
<path d="M240.15 626.8V642.9" stroke="#b08444" stroke-width="1.3" opacity="0.85"/>
<path d="M240.15 661.6V680.5" stroke="#b08444" stroke-width="1.3" opacity="0.85"/>
<path d="M247.9 632.7V643.4" stroke="#cf4a34" stroke-width="1.3" opacity="0.85"/>
<path d="M247.9 682.1V711.8" stroke="#cf4a34" stroke-width="1.3" opacity="0.85"/>
<path d="M257.05 669.8V679.2" stroke="#cf4a34" stroke-width="1.3" opacity="0.85"/>
<path d="M257.05 765.5V790" stroke="#cf4a34" stroke-width="1.3" opacity="0.85"/>
<path d="M266 744V764.9" stroke="#cf7038" stroke-width="1.3" opacity="0.85"/>
<path d="M266 792.8V820" stroke="#cf7038" stroke-width="1.3" opacity="0.85"/>
<path d="M272.65 744V766.1" stroke="#cf5a36" stroke-width="1.3" opacity="0.85"/>
<path d="M272.65 795.9V820" stroke="#cf5a36" stroke-width="1.3" opacity="0.85"/>
<path d="M279.7 786V794.2" stroke="#cf4a34" stroke-width="1.3" opacity="0.85"/>
<path d="M287.1 842V844.8" stroke="#cf4a34" stroke-width="1.3" opacity="0.85"/>
<path d="M293.65 870.2V876.7" stroke="#cf7038" stroke-width="1.3" opacity="0.85"/>
<path d="M300.5 838.6V845.4" stroke="#5aa866" stroke-width="1.3" opacity="0.85"/>
<path d="M300.5 861V871.8" stroke="#5aa866" stroke-width="1.3" opacity="0.85"/>
<path d="M306.95 846V860" stroke="#5aa866" stroke-width="1.3" opacity="0.85"/>
<path d="M313.95 842.5V846" stroke="#5aa866" stroke-width="1.3" opacity="0.85"/>
<path d="M326.45 786V792.5" stroke="#5aa866" stroke-width="1.3" opacity="0.85"/>
<path d="M326.45 805.4V812.2" stroke="#5aa866" stroke-width="1.3" opacity="0.85"/>
<path d="M332.75 774.3V792" stroke="#cf7038" stroke-width="1.3" opacity="0.85"/>
<path d="M332.75 803.5V812.3" stroke="#cf7038" stroke-width="1.3" opacity="0.85"/>
<path d="M340.25 783.1V794.5" stroke="#cf4a34" stroke-width="1.3" opacity="0.85"/>
<path d="M340.25 813.3V824" stroke="#cf4a34" stroke-width="1.3" opacity="0.85"/>
<path d="M347.65 812.3V825.9" stroke="#5aa866" stroke-width="1.3" opacity="0.85"/>
<path d="M354.2 808.7V819" stroke="#5aa866" stroke-width="1.3" opacity="0.85"/>
<path d="M361.5 787V797.2" stroke="#cf4a34" stroke-width="1.3" opacity="0.85"/>
<path d="M361.5 809.6V823" stroke="#cf4a34" stroke-width="1.3" opacity="0.85"/>
<path d="M368.65 809.6V823" stroke="#86b878" stroke-width="1.3" opacity="0.85"/>
<path d="M381.95 761.6V776.8" stroke="#5aa866" stroke-width="1.3" opacity="0.85"/>
<path d="M387.25 748V761.6" stroke="#5aa866" stroke-width="1.3" opacity="0.85"/>
<path d="M387.25 786V791.9" stroke="#5aa866" stroke-width="1.3" opacity="0.85"/>
<path d="M393.25 752.8V764.9" stroke="#cf7038" stroke-width="1.3" opacity="0.85"/>
<path d="M400.1 789.9V806" stroke="#cf4a34" stroke-width="1.3" opacity="0.85"/>
<path d="M407.25 807.4V821" stroke="#cf5a36" stroke-width="1.3" opacity="0.85"/>
<path d="M415.7 752.8V758.7" stroke="#5aa866" stroke-width="1.3" opacity="0.85"/>
<path d="M415.7 787.2V834.3" stroke="#5aa866" stroke-width="1.3" opacity="0.85"/>
<path d="M423.35 746V754.8" stroke="#86b878" stroke-width="1.3" opacity="0.85"/>
<path d="M423.35 766.9V773.3" stroke="#86b878" stroke-width="1.3" opacity="0.85"/>
<path d="M431.95 672.8V682" stroke="#5aa866" stroke-width="1.3" opacity="0.85"/>
<path d="M431.95 760.2V770" stroke="#5aa866" stroke-width="1.3" opacity="0.85"/>
<path d="M439.35 668.4V671.8" stroke="#93ab5e" stroke-width="1.3" opacity="0.85"/>
<path d="M439.35 695.5V710.3" stroke="#93ab5e" stroke-width="1.3" opacity="0.85"/>
<path d="M447.2 643.2V672" stroke="#cf4a34" stroke-width="1.3" opacity="0.85"/>
<path d="M447.2 695.7V719.7" stroke="#cf4a34" stroke-width="1.3" opacity="0.85"/>
<path d="M454.6 635.4V647.2" stroke="#cf4a34" stroke-width="1.3" opacity="0.85"/>
<path d="M454.6 694.4V707.1" stroke="#cf4a34" stroke-width="1.3" opacity="0.85"/>
<rect x="74.6" y="634" width="5.5" height="9.8" rx="0.6" fill="#f0813d"/>
<rect x="81.5" y="640.5" width="5.8" height="57.2" rx="0.6" fill="#ee5335"/>
<rect x="88.9" y="694.8" width="4.7" height="5.2" rx="0.6" fill="#e3c350"/>
<rect x="94.8" y="689" width="4.8" height="17.5" rx="0.6" fill="#f0683a"/>
<rect x="101" y="705" width="6.5" height="94.6" rx="0.6" fill="#ee5335"/>
<rect x="109.8" y="797" width="4.9" height="4.3" rx="0.6" fill="#e3c350"/>
<rect x="116.3" y="797.2" width="6" height="43.3" rx="0.6" fill="#ee5335"/>
<rect x="123.5" y="841.5" width="6.4" height="38.7" rx="0.6" fill="#ee5335"/>
<rect x="131.3" y="875.7" width="4.3" height="4.9" rx="0.6" fill="#e3c350"/>
<rect x="137.1" y="854.8" width="5.9" height="26.8" rx="0.6" fill="#6fc274"/>
<rect x="144.6" y="848.4" width="4.3" height="15.6" rx="0.6" fill="#6fc274"/>
<rect x="149.8" y="849.3" width="4.9" height="14.3" rx="0.6" fill="#ee5335"/>
<rect x="154.7" y="857.5" width="5.5" height="11.8" rx="0.6" fill="#ee5335"/>
<rect x="161.2" y="857.1" width="5.8" height="12.7" rx="0.6" fill="#6fc274"/>
<rect x="162" y="846.4" width="4" height="10.7" rx="0.6" fill="#4f9a5c"/>
<rect x="168.4" y="839.2" width="5.5" height="20.3" rx="0.6" fill="#6fc274"/>
<rect x="174.8" y="838.6" width="4.3" height="11.3" rx="0.6" fill="#f0813d"/>
<rect x="180.7" y="774.3" width="5.9" height="74.1" rx="0.6" fill="#6fc274"/>
<rect x="187" y="722.9" width="5.8" height="97.1" rx="0.6" fill="#6fc274"/>
<rect x="194.4" y="720.2" width="5.2" height="15.6" rx="0.6" fill="#6fc274"/>
<rect x="201" y="724.5" width="5.9" height="17" rx="0.6" fill="#ee5335"/>
<rect x="209.4" y="721" width="5.3" height="21" rx="0.6" fill="#6fc274"/>
<rect x="215.7" y="682.1" width="6" height="53.7" rx="0.6" fill="#6fc274"/>
<rect x="223.1" y="670.2" width="5.3" height="13.8" rx="0.6" fill="#6fc274"/>
<rect x="229.9" y="651.6" width="5.9" height="16.6" rx="0.6" fill="#6fc274"/>
<rect x="237.7" y="642.9" width="4.9" height="18.7" rx="0.6" fill="#cf9a4c"/>
<rect x="245" y="643.4" width="5.8" height="38.7" rx="0.6" fill="#ee5335"/>
<rect x="253.9" y="679.2" width="6.3" height="86.3" rx="0.6" fill="#ee5335"/>
<rect x="263.1" y="764.9" width="5.8" height="27.9" rx="0.6" fill="#f0813d"/>
<rect x="269.9" y="766.1" width="5.5" height="29.8" rx="0.6" fill="#f0683a"/>
<rect x="276.8" y="794.2" width="5.8" height="52.6" rx="0.6" fill="#ee5335"/>
<rect x="284.2" y="844.8" width="5.8" height="31.5" rx="0.6" fill="#ee5335"/>
<rect x="291" y="847.4" width="5.3" height="22.8" rx="0.6" fill="#f0813d"/>
<rect x="297.9" y="845.4" width="5.2" height="15.6" rx="0.6" fill="#6fc274"/>
<rect x="304.3" y="837" width="5.3" height="9" rx="0.6" fill="#6fc274"/>
<rect x="305.7" y="823.4" width="2.5" height="13.6" rx="0.6" fill="#6fc274"/>
<rect x="311.1" y="819.5" width="5.7" height="23" rx="0.6" fill="#6fc274"/>
<rect x="318" y="796.6" width="5.2" height="33.8" rx="0.6" fill="#6fc274"/>
<rect x="324.2" y="792.5" width="4.5" height="12.9" rx="0.6" fill="#6fc274"/>
<rect x="330.1" y="792" width="5.3" height="11.5" rx="0.6" fill="#f0813d"/>
<rect x="337.3" y="794.5" width="5.9" height="18.8" rx="0.6" fill="#ee5335"/>
<rect x="345.1" y="800.6" width="5.1" height="11.7" rx="0.6" fill="#6fc274"/>
<rect x="351.6" y="783.3" width="5.2" height="25.4" rx="0.6" fill="#6fc274"/>
<rect x="358.4" y="797.2" width="6.2" height="12.4" rx="0.6" fill="#ee5335"/>
<rect x="366.2" y="797" width="4.9" height="12.6" rx="0.6" fill="#9bd08a"/>
<rect x="373" y="778.2" width="5" height="34.1" rx="0.6" fill="#6fc274"/>
<rect x="379.5" y="776.8" width="4.9" height="21.1" rx="0.6" fill="#6fc274"/>
<rect x="385.4" y="761.6" width="3.7" height="24.4" rx="0.6" fill="#6fc274"/>
<rect x="390.6" y="764.9" width="5.3" height="18.8" rx="0.6" fill="#f0813d"/>
<rect x="396.9" y="770" width="6.4" height="19.9" rx="0.6" fill="#ee5335"/>
<rect x="404.3" y="786.8" width="5.9" height="20.6" rx="0.6" fill="#f0683a"/>
<rect x="412.5" y="758.7" width="6.4" height="28.5" rx="0.6" fill="#6fc274"/>
<rect x="420.9" y="754.8" width="4.9" height="12.1" rx="0.6" fill="#9bd08a"/>
<rect x="429.2" y="682" width="5.5" height="78.2" rx="0.6" fill="#6fc274"/>
<rect x="436.2" y="671.8" width="6.3" height="23.7" rx="0.6" fill="#a9c46a"/>
<rect x="444.2" y="672" width="6" height="23.7" rx="0.6" fill="#ee5335"/>
<rect x="451.5" y="647.2" width="6.2" height="47.2" rx="0.6" fill="#ee5335"/>
<text x="67" y="634.2" font-size="7.6" fill="#8a93a6" text-anchor="end" font-weight="normal">8.03</text>
<text x="67" y="672" font-size="7.6" fill="#8a93a6" text-anchor="end" font-weight="normal">8.08</text>
<text x="67" y="710" font-size="7.6" fill="#8a93a6" text-anchor="end" font-weight="normal">610</text>
<text x="67" y="748" font-size="7.6" fill="#8a93a6" text-anchor="end" font-weight="normal">6.03</text>
<text x="67" y="785" font-size="7.6" fill="#8a93a6" text-anchor="end" font-weight="normal">6.10</text>
<text x="67" y="823" font-size="7.6" fill="#8a93a6" text-anchor="end" font-weight="normal">2.6</text>
<text x="67" y="862" font-size="7.6" fill="#8a93a6" text-anchor="end" font-weight="normal">6.00</text>
<text x="67" y="900.6" font-size="7.6" fill="#8a93a6" text-anchor="end" font-weight="normal">2.0</text>
<text x="67" y="937" font-size="7.6" fill="#8a93a6" text-anchor="end" font-weight="normal">0.0</text>
<text x="485" y="635" font-size="7.8" fill="#8a93a6" text-anchor="end" font-weight="normal" textLength="20.2" lengthAdjust="spacingAndGlyphs">3808</text>
<text x="485" y="672.3" font-size="7.8" fill="#8a93a6" text-anchor="end" font-weight="normal" textLength="20.2" lengthAdjust="spacingAndGlyphs">2823</text>
<text x="485" y="710.4" font-size="7.8" fill="#8a93a6" text-anchor="end" font-weight="normal" textLength="20.2" lengthAdjust="spacingAndGlyphs">2030</text>
<text x="485" y="748.8" font-size="7.8" fill="#8a93a6" text-anchor="end" font-weight="normal" textLength="20.2" lengthAdjust="spacingAndGlyphs">2029</text>
<text x="485" y="786.6" font-size="7.8" fill="#8a93a6" text-anchor="end" font-weight="normal" textLength="20.2" lengthAdjust="spacingAndGlyphs">2020</text>
<text x="485" y="824.4" font-size="7.8" fill="#8a93a6" text-anchor="end" font-weight="normal" textLength="20.2" lengthAdjust="spacingAndGlyphs">2029</text>
<text x="485" y="862.3" font-size="7.8" fill="#8a93a6" text-anchor="end" font-weight="normal" textLength="22.5" lengthAdjust="spacingAndGlyphs">/2029</text>
<text x="485" y="900.7" font-size="7.8" fill="#8a93a6" text-anchor="end" font-weight="normal" textLength="20.2" lengthAdjust="spacingAndGlyphs">2020</text>
<text x="485" y="936.4" font-size="7.8" fill="#8a93a6" text-anchor="end" font-weight="normal" textLength="20.2" lengthAdjust="spacingAndGlyphs">2023</text>
<text x="74.6" y="948.4" font-size="7.8" fill="#8a93a6" text-anchor="start" font-weight="normal" textLength="18.2" lengthAdjust="spacingAndGlyphs">6008</text>
<text x="134.2" y="948.4" font-size="7.8" fill="#8a93a6" text-anchor="start" font-weight="normal" textLength="17" lengthAdjust="spacingAndGlyphs">2028</text>
<text x="188" y="948.4" font-size="7.8" fill="#8a93a6" text-anchor="start" font-weight="normal" textLength="42" lengthAdjust="spacingAndGlyphs">22035 2t23</text>
<text x="264" y="948.4" font-size="7.8" fill="#8a93a6" text-anchor="start" font-weight="normal" textLength="40.7" lengthAdjust="spacingAndGlyphs">221B1103</text>
<text x="339.8" y="948.4" font-size="7.8" fill="#8a93a6" text-anchor="start" font-weight="normal" textLength="18" lengthAdjust="spacingAndGlyphs">2003</text>
<text x="393.3" y="948.4" font-size="7.8" fill="#8a93a6" text-anchor="start" font-weight="normal" textLength="18.5" lengthAdjust="spacingAndGlyphs">S005</text>
<text x="449.2" y="948.4" font-size="7.8" fill="#8a93a6" text-anchor="start" font-weight="normal" textLength="15.1" lengthAdjust="spacingAndGlyphs">2403</text>
<rect x="524.6" y="546" width="453.8" height="420.3" rx="5.5" fill="#0b1424" stroke="#182237" stroke-width="1"/>
<text x="535" y="565.4" font-size="10.3" fill="#aab1c0" text-anchor="start" font-weight="normal" textLength="48.8" lengthAdjust="spacingAndGlyphs" stroke="#aab1c0" stroke-width="0.35">Eoek lsear</text>
<circle cx="920.7" cy="562.8" r="3.6" fill="#3a4150" stroke="#9aa0ad" stroke-width="1.7"/>
<path d="M932.2 559.4H942.8" stroke="#b5b3ae" stroke-width="2"/>
<path d="M932.2 562.8H942.8" stroke="#b5b3ae" stroke-width="2"/>
<path d="M932.2 566.2H942.8" stroke="#b5b3ae" stroke-width="2"/>
<path d="M956.7 567L957.9 563.3V561.8A3.4 3.4 0 0 1 964.7 561.8V563.3L965.9 567M956.7 565.4H965.9" stroke="#8f97a8" stroke-width="1.3" fill="none" stroke-linejoin="round"/>
<path d="M958.4 588.2L966 595.8M966 588.2L958.4 595.8" stroke="#8f97a8" stroke-width="1.2"/>
<path d="M525 576H978" stroke="#162033" stroke-width="1"/>
<text x="533.2" y="595" font-size="9.8" fill="#79839a" text-anchor="start" font-weight="normal" textLength="42.3" lengthAdjust="spacingAndGlyphs">Hoctacrix</text>
<text x="583.8" y="595" font-size="9.8" fill="#79839a" text-anchor="start" font-weight="normal" textLength="27" lengthAdjust="spacingAndGlyphs">Cacog</text>
<path d="M525 606H978" stroke="#162033" stroke-width="1"/>
<text x="528" y="621.4" font-size="8.6" fill="#79839a" text-anchor="start" font-weight="normal" textLength="14.5" lengthAdjust="spacingAndGlyphs">Faat</text>
<text x="937" y="621.5" font-size="6.5" fill="#79839a" text-anchor="start" font-weight="normal">1</text>
<text x="943.5" y="622" font-size="7.8" fill="#79839a" text-anchor="start" font-weight="normal" textLength="17" lengthAdjust="spacingAndGlyphs" font-style="italic">Mnc</text>
<circle cx="966.6" cy="618" r="4" fill="none" stroke="#2a3446" stroke-width="1"/>
<path d="M545.4 631.3V934M570.8 631.3V934M597.1 631.3V934M623.5 631.3V934M649.9 631.3V934M676.8 631.3V934M703.3 631.3V934M729.9 631.3V934M756.6 631.3V934M783.6 631.3V934M810.4 631.3V934M836.7 631.3V934M863.1 631.3V934M889.7 631.3V934M915 631.3V934M940.4 631.3V934M545.4 631.3H940.4M545.4 669.4H940.4M545.4 707.3H940.4M545.4 745H940.4M545.4 782.5H940.4M545.4 820.5H940.4M545.4 859.3H940.4M545.4 897.6H940.4M545.4 934H940.4" stroke="#222d43" stroke-width="1" fill="none"/>
<path d="M547.1 862.6H553.8V931.2H547.1ZM553.6 903.8H559.7V931.2H553.6ZM559.4 902.2H565.9V931.2H559.4ZM565.7 910.1H571.8V931.2H565.7ZM571.2 909.7H576.9V931.2H571.2ZM576.6 912H582.7V931.2H576.6ZM582.3 905.2H588.6V931.2H582.3ZM588.3 877.2H594.8V931.2H588.3ZM594.6 893.1H600.7V931.2H594.6ZM600.5 888.2H606.9V931.2H600.5ZM606.7 899.3H612.8V931.2H606.7ZM613.2 883.7H619.6V931.2H613.2ZM619.4 882.1H625.7V931.2H619.4ZM625.5 901.7H631.5V931.2H625.5ZM631.3 910.5H637.4V931.2H631.3ZM637.2 910.1H643.3V931.2H637.2ZM643 912H649.1V931.2H643ZM648.9 900.3H655V931.2H648.9ZM654.8 875.3H661.2V931.2H654.8ZM661.4 892.5H667.7V931.2H661.4ZM667.4 898H673.9V931.2H667.4ZM674.1 907.1H680.4V931.2H674.1ZM680.5 904.2H686.6V931.2H680.5ZM686.4 910.6H692.9V931.2H686.4ZM692.8 910.5H698.9V931.2H692.8ZM698.5 880.8H704.6V931.2H698.5ZM704.9 904.6H711.4V931.2H704.9ZM711.4 895.6H717.6V931.2H711.4ZM717.6 895.4H724.4V931.2H717.6ZM724.4 881.2H730.5V931.2H724.4ZM730.7 874.5H737.1V931.2H730.7ZM737.1 875.9H743.6V931.2H737.1ZM743.7 885.1H749.8V931.2H743.7ZM749.8 894.4H756.3V931.2H749.8ZM756.4 894.8H762.7V931.2H756.4ZM762.3 879.8H768.6V931.2H762.3ZM769.1 904.2H775.4V931.2H769.1ZM775.6 895.8H781.7V931.2H775.6ZM781.8 893.5H788.5V931.2H781.8ZM788.3 879.8H794.7V931.2H788.3ZM794.7 871.4H801.2V931.2H794.7ZM801.4 851.5H807.6V931.2H801.4ZM807.4 888.6H813.9V931.2H807.4ZM814 885.3H820.3V931.2H814ZM820.5 871.6H826.6V931.2H820.5ZM826.7 885.6H833.4V931.2H826.7ZM833.6 876.3H839.7V931.2H833.6ZM839.6 884.7H846.1V931.2H839.6ZM846.3 849.9H853.5V931.2H846.3ZM853.3 870H859.4V931.2H853.3ZM859.2 871H864.8V931.2H859.2ZM861.8 852.2H867.8V931.2H861.8ZM865.7 881.2H871.8V931.2H865.7ZM871.6 891.2H877.7V931.2H871.6ZM877.7 881.2H884V931.2H877.7ZM884.4 891.2H890.6V931.2H884.4ZM890.6 874.2H897.4V931.2H890.6ZM897.4 865.9H903.5V931.2H897.4ZM903.9 828.2H910.3V931.2H903.9ZM910.4 855.2H916.8V931.2H910.4ZM917.3 810.6H923.4V931.2H917.3ZM923.4 794.2H930.2V931.2H923.4Z" fill="#0a0d14" opacity="0.85"/>
<path d="M547.7 863.4H553.2V930H547.7ZM554.2 904.6H559.1V930H554.2ZM560 903H565.3V930H560ZM566.3 910.9H571.2V930H566.3ZM571.8 910.5H576.3V930H571.8ZM577.2 912.8H582.1V930H577.2ZM582.9 906H588V930H582.9ZM588.9 878H594.2V930H588.9ZM595.2 893.9H600.1V930H595.2ZM601.1 889H606.3V930H601.1ZM607.3 900.1H612.2V930H607.3ZM613.8 884.5H619V930H613.8ZM620 882.9H625.1V930H620ZM626.1 902.5H630.9V930H626.1ZM631.9 911.3H636.8V930H631.9ZM637.8 910.9H642.7V930H637.8ZM643.6 912.8H648.5V930H643.6ZM649.5 901.1H654.4V930H649.5ZM655.4 876.1H660.6V930H655.4ZM662 893.3H667.1V930H662ZM668 898.8H673.3V930H668ZM674.7 907.9H679.8V930H674.7ZM681.1 905H686V930H681.1ZM687 911.4H692.3V930H687ZM693.4 911.3H698.3V930H693.4ZM699.1 881.6H704V930H699.1ZM705.5 905.4H710.8V930H705.5ZM712 896.4H717V930H712ZM718.2 896.2H723.8V930H718.2ZM725 882H729.9V930H725ZM731.3 875.3H736.5V930H731.3ZM737.7 876.7H743V930H737.7ZM744.3 885.9H749.2V930H744.3ZM750.4 895.2H755.7V930H750.4ZM757 895.6H762.1V930H757ZM762.9 880.6H768V930H762.9ZM769.7 905H774.8V930H769.7ZM776.2 896.6H781.1V930H776.2ZM782.4 894.3H787.9V930H782.4ZM788.9 880.6H794.1V930H788.9ZM795.3 872.2H800.6V930H795.3ZM802 852.3H807V930H802ZM808 889.4H813.3V930H808ZM814.6 886.1H819.7V930H814.6ZM821.1 872.4H826V930H821.1ZM827.3 886.4H832.8V930H827.3ZM834.2 877.1H839.1V930H834.2ZM840.2 885.5H845.5V930H840.2ZM846.9 850.7H852.9V930H846.9ZM853.9 870.8H858.8V930H853.9ZM859.8 871.8H864.2V930H859.8ZM862.4 853H867.2V930H862.4ZM866.3 882H871.2V930H866.3ZM872.2 892H877.1V930H872.2ZM878.3 882H883.4V930H878.3ZM885 892H890V930H885ZM891.2 875H896.8V930H891.2ZM898 866.7H902.9V930H898ZM904.5 829H909.7V930H904.5ZM911 856H916.2V930H911ZM917.9 811.4H922.8V930H917.9ZM924 795H929.6V930H924Z" fill="url(#vg)"/>
<path d="M537.75 648.3V661" stroke="#cf4a34" stroke-width="1.3" opacity="0.85"/>
<path d="M537.75 684.5V704" stroke="#cf4a34" stroke-width="1.3" opacity="0.85"/>
<path d="M544.9 671V681" stroke="#cf4a34" stroke-width="1.3" opacity="0.85"/>
<path d="M544.9 727V754.8" stroke="#cf4a34" stroke-width="1.3" opacity="0.85"/>
<path d="M552.5 705.5V721" stroke="#cf4a34" stroke-width="1.3" opacity="0.85"/>
<path d="M552.5 745.4V751.3" stroke="#cf4a34" stroke-width="1.3" opacity="0.85"/>
<path d="M559.1 750.9V763.6" stroke="#5aa866" stroke-width="1.3" opacity="0.85"/>
<path d="M569.5 697.7V720.2" stroke="#5aa866" stroke-width="1.3" opacity="0.85"/>
<path d="M569.5 740.7V766.1" stroke="#5aa866" stroke-width="1.3" opacity="0.85"/>
<path d="M578.9 780.2V794.6" stroke="#cf4a34" stroke-width="1.3" opacity="0.85"/>
<path d="M587.45 774.3V781.4" stroke="#cf7038" stroke-width="1.3" opacity="0.85"/>
<path d="M587.45 789.8V816" stroke="#cf7038" stroke-width="1.3" opacity="0.85"/>
<path d="M595.4 860.1V879.6" stroke="#cf4a34" stroke-width="1.3" opacity="0.85"/>
<path d="M603.8 868.9V888.4" stroke="#5aa866" stroke-width="1.3" opacity="0.85"/>
<path d="M619.4 794V807" stroke="#cf8440" stroke-width="1.3" opacity="0.85"/>
<path d="M619.4 823V830.8" stroke="#cf8440" stroke-width="1.3" opacity="0.85"/>
<path d="M627.05 831.8V849.3" stroke="#cf5a36" stroke-width="1.3" opacity="0.85"/>
<path d="M634.45 752.8V760.6" stroke="#5aa866" stroke-width="1.3" opacity="0.85"/>
<path d="M640.95 710.2V759.6" stroke="#5aa866" stroke-width="1.3" opacity="0.85"/>
<path d="M648.25 778.2V792" stroke="#cf4a34" stroke-width="1.3" opacity="0.85"/>
<path d="M655.15 759.6V768" stroke="#cf4a34" stroke-width="1.3" opacity="0.85"/>
<path d="M655.15 782.1V799.6" stroke="#cf4a34" stroke-width="1.3" opacity="0.85"/>
<path d="M662.2 785.8V806" stroke="#cf7038" stroke-width="1.3" opacity="0.85"/>
<path d="M669.15 752.4V764.1" stroke="#5aa866" stroke-width="1.3" opacity="0.85"/>
<path d="M669.15 781.7V794" stroke="#5aa866" stroke-width="1.3" opacity="0.85"/>
<path d="M675.85 748V756.1" stroke="#5aa866" stroke-width="1.3" opacity="0.85"/>
<path d="M683.35 736.8V741.5" stroke="#5aa866" stroke-width="1.3" opacity="0.85"/>
<path d="M683.35 761.6V780.2" stroke="#5aa866" stroke-width="1.3" opacity="0.85"/>
<path d="M690.25 717.7V743.4" stroke="#cf7038" stroke-width="1.3" opacity="0.85"/>
<path d="M690.25 752.8V759.6" stroke="#cf7038" stroke-width="1.3" opacity="0.85"/>
<path d="M697.95 783.7V791" stroke="#cf4a34" stroke-width="1.3" opacity="0.85"/>
<path d="M705.4 749V762" stroke="#cf4a34" stroke-width="1.3" opacity="0.85"/>
<path d="M712.8 797V800.7" stroke="#cf4a34" stroke-width="1.3" opacity="0.85"/>
<path d="M712.8 831.5V847.4" stroke="#cf4a34" stroke-width="1.3" opacity="0.85"/>
<path d="M722.1 801.5V816.2" stroke="#5aa866" stroke-width="1.3" opacity="0.85"/>
<path d="M722.1 827.9V834.7" stroke="#5aa866" stroke-width="1.3" opacity="0.85"/>
<path d="M730.35 859.1V870.8" stroke="#cf4a34" stroke-width="1.3" opacity="0.85"/>
<path d="M736.75 859.1V871.8" stroke="#5aa866" stroke-width="1.3" opacity="0.85"/>
<path d="M748.7 801.5V815.5" stroke="#5aa866" stroke-width="1.3" opacity="0.85"/>
<path d="M748.7 831.8V837.6" stroke="#5aa866" stroke-width="1.3" opacity="0.85"/>
<path d="M754.85 810V815.5" stroke="#86b878" stroke-width="1.3" opacity="0.85"/>
<path d="M754.85 821V831.8" stroke="#86b878" stroke-width="1.3" opacity="0.85"/>
<path d="M761.3 831.8V842.5" stroke="#cf5a36" stroke-width="1.3" opacity="0.85"/>
<path d="M768.15 828.8V843.5" stroke="#5aa866" stroke-width="1.3" opacity="0.85"/>
<path d="M775.5 784V795.9" stroke="#5aa866" stroke-width="1.3" opacity="0.85"/>
<path d="M781.55 752.8V758.3" stroke="#5aa866" stroke-width="1.3" opacity="0.85"/>
<path d="M788.1 750.5V756.7" stroke="#5aa866" stroke-width="1.3" opacity="0.85"/>
<path d="M788.1 786.7V790" stroke="#5aa866" stroke-width="1.3" opacity="0.85"/>
<path d="M794.55 719.2V725.5" stroke="#5aa866" stroke-width="1.3" opacity="0.85"/>
<path d="M794.55 774.3V780" stroke="#5aa866" stroke-width="1.3" opacity="0.85"/>
<path d="M801.05 709.5V726.1" stroke="#cf7038" stroke-width="1.3" opacity="0.85"/>
<path d="M801.05 742.7V757.7" stroke="#cf7038" stroke-width="1.3" opacity="0.85"/>
<path d="M808 759.1V776.3" stroke="#cf4a34" stroke-width="1.3" opacity="0.85"/>
<path d="M814.55 784.1V788" stroke="#cf4a34" stroke-width="1.3" opacity="0.85"/>
<path d="M822.85 804.8V817.7" stroke="#cf4a34" stroke-width="1.3" opacity="0.85"/>
<path d="M828.95 775.3V776" stroke="#cf9038" stroke-width="1.3" opacity="0.85"/>
<path d="M828.95 784V817.3" stroke="#cf9038" stroke-width="1.3" opacity="0.85"/>
<path d="M834.75 764.5V780.6" stroke="#5aa866" stroke-width="1.3" opacity="0.85"/>
<path d="M834.75 806.4V818" stroke="#5aa866" stroke-width="1.3" opacity="0.85"/>
<path d="M841.6 738.8V755.7" stroke="#5aa866" stroke-width="1.3" opacity="0.85"/>
<path d="M841.6 786.7V797" stroke="#5aa866" stroke-width="1.3" opacity="0.85"/>
<path d="M857.7 730.4V736.8" stroke="#cf7038" stroke-width="1.3" opacity="0.85"/>
<path d="M857.7 741.1V750.9" stroke="#cf7038" stroke-width="1.3" opacity="0.85"/>
<path d="M864.95 741.5V750.9" stroke="#5aa866" stroke-width="1.3" opacity="0.85"/>
<path d="M877.9 675.7V680.1" stroke="#5aa866" stroke-width="1.3" opacity="0.85"/>
<path d="M884.75 667.8V680.6" stroke="#cf4a34" stroke-width="1.3" opacity="0.85"/>
<path d="M884.75 693V705.6" stroke="#cf4a34" stroke-width="1.3" opacity="0.85"/>
<path d="M892 680.5V690.3" stroke="#cf4a34" stroke-width="1.3" opacity="0.85"/>
<path d="M892 719V738" stroke="#cf4a34" stroke-width="1.3" opacity="0.85"/>
<path d="M900.25 708.6V715" stroke="#cf5a36" stroke-width="1.3" opacity="0.85"/>
<path d="M908.1 664.6V668.9" stroke="#5aa866" stroke-width="1.3" opacity="0.85"/>
<path d="M908.1 746.2V774.7" stroke="#5aa866" stroke-width="1.3" opacity="0.85"/>
<path d="M915.6 632.4V647.4" stroke="#5aa866" stroke-width="1.3" opacity="0.85"/>
<path d="M922.8 636.6V648.5" stroke="#cf5a36" stroke-width="1.3" opacity="0.85"/>
<path d="M922.8 671.7V691.4" stroke="#cf5a36" stroke-width="1.3" opacity="0.85"/>
<path d="M930.6 672.1V692.5" stroke="#5aa866" stroke-width="1.3" opacity="0.85"/>
<path d="M531.7 637.6V661" stroke="#c25a48" stroke-width="1.2"/>
<rect x="534.6" y="661" width="6.3" height="23.5" rx="0.6" fill="#ee5335"/>
<rect x="541.9" y="681" width="6" height="46" rx="0.6" fill="#ee5335"/>
<rect x="549.3" y="721" width="6.4" height="24.4" rx="0.6" fill="#ee5335"/>
<rect x="556.7" y="727" width="4.8" height="23.9" rx="0.6" fill="#6fc274"/>
<rect x="560.3" y="721.6" width="5.2" height="24.4" rx="0.6" fill="#6fc274"/>
<rect x="566.9" y="720.2" width="5.2" height="20.5" rx="0.6" fill="#6fc274"/>
<rect x="575.7" y="721" width="6.4" height="59.2" rx="0.6" fill="#ee5335"/>
<rect x="585" y="781.4" width="4.9" height="8.4" rx="0.6" fill="#f0813d"/>
<rect x="592.3" y="784" width="6.2" height="76.1" rx="0.6" fill="#ee5335"/>
<rect x="600.7" y="846.4" width="6.2" height="22.5" rx="0.6" fill="#6fc274"/>
<rect x="608.5" y="809.7" width="5.7" height="52.3" rx="0.6" fill="#6fc274"/>
<rect x="616.7" y="807" width="5.4" height="16" rx="0.6" fill="#ef9a4c"/>
<rect x="624.1" y="810.3" width="5.9" height="21.5" rx="0.6" fill="#f0683a"/>
<rect x="631.7" y="760.6" width="5.5" height="71.2" rx="0.6" fill="#6fc274"/>
<rect x="638.2" y="759.6" width="5.5" height="49.6" rx="0.6" fill="#6fc274"/>
<rect x="645.6" y="747.3" width="5.3" height="30.9" rx="0.6" fill="#ee5335"/>
<rect x="652.2" y="768" width="5.9" height="14.1" rx="0.6" fill="#ee5335"/>
<rect x="659.3" y="780.2" width="5.8" height="5.6" rx="0.6" fill="#f0813d"/>
<rect x="666.5" y="764.1" width="5.3" height="17.6" rx="0.6" fill="#6fc274"/>
<rect x="672.9" y="756.1" width="5.9" height="25" rx="0.6" fill="#6fc274"/>
<rect x="680.7" y="741.5" width="5.3" height="20.1" rx="0.6" fill="#6fc274"/>
<rect x="687.6" y="743.4" width="5.3" height="9.4" rx="0.6" fill="#f0813d"/>
<rect x="695.2" y="748.9" width="5.5" height="34.8" rx="0.6" fill="#ee5335"/>
<rect x="702.5" y="762" width="5.8" height="40.3" rx="0.6" fill="#ee5335"/>
<rect x="709.8" y="800.7" width="6" height="30.8" rx="0.6" fill="#ee5335"/>
<rect x="718" y="816.2" width="8.2" height="11.7" rx="0.6" fill="#6fc274"/>
<rect x="727.3" y="816.2" width="6.1" height="42.9" rx="0.6" fill="#ee5335"/>
<rect x="734.8" y="843.5" width="3.9" height="15.6" rx="0.6" fill="#6fc274"/>
<rect x="740" y="820" width="5.3" height="38.1" rx="0.6" fill="#6fc274"/>
<rect x="745.9" y="815.5" width="5.6" height="16.3" rx="0.6" fill="#6fc274"/>
<rect x="752.7" y="815.5" width="4.3" height="5.5" rx="0.6" fill="#9bd08a"/>
<rect x="758.6" y="817.1" width="5.4" height="14.7" rx="0.6" fill="#f0683a"/>
<rect x="765.4" y="821" width="5.5" height="7.8" rx="0.6" fill="#6fc274"/>
<rect x="768" y="792.8" width="2.7" height="28.2" rx="0.6" fill="#6fc274"/>
<rect x="772.9" y="795.9" width="5.2" height="31" rx="0.6" fill="#6fc274"/>
<rect x="778.7" y="758.3" width="5.7" height="42.3" rx="0.6" fill="#6fc274"/>
<rect x="785.4" y="756.7" width="5.4" height="30" rx="0.6" fill="#6fc274"/>
<rect x="791.8" y="725.5" width="5.5" height="48.8" rx="0.6" fill="#6fc274"/>
<rect x="798.6" y="726.1" width="4.9" height="16.6" rx="0.6" fill="#f0813d"/>
<rect x="805.1" y="733.9" width="5.8" height="25.2" rx="0.6" fill="#ee5335"/>
<rect x="811.9" y="757.3" width="5.3" height="26.8" rx="0.6" fill="#ee5335"/>
<rect x="819.7" y="781.8" width="6.3" height="23" rx="0.6" fill="#ee5335"/>
<rect x="827" y="776" width="3.9" height="8" rx="0.6" fill="#eba23c"/>
<rect x="827" y="800.7" width="3.9" height="4.8" rx="0.6" fill="#eba23c"/>
<rect x="832.2" y="780.6" width="5.1" height="25.8" rx="0.6" fill="#6fc274"/>
<rect x="838.7" y="755.7" width="5.8" height="31" rx="0.6" fill="#6fc274"/>
<rect x="846.1" y="736.5" width="6.8" height="13.5" rx="0.6" fill="#6fc274"/>
<rect x="846.1" y="737.2" width="3.9" height="29.3" rx="0.6" fill="#6fc274"/>
<rect x="854.3" y="736.8" width="6.8" height="4.3" rx="0.6" fill="#f0813d"/>
<rect x="862.3" y="718" width="5.3" height="23.5" rx="0.6" fill="#6fc274"/>
<rect x="868.9" y="688.1" width="5.5" height="47.7" rx="0.6" fill="#6fc274"/>
<rect x="875.3" y="680.1" width="5.2" height="28.7" rx="0.6" fill="#6fc274"/>
<rect x="882" y="680.6" width="5.5" height="12.4" rx="0.6" fill="#ee5335"/>
<rect x="889" y="690.3" width="6" height="28.7" rx="0.6" fill="#ee5335"/>
<rect x="897.5" y="715" width="5.5" height="31" rx="0.6" fill="#f0683a"/>
<rect x="904.7" y="668.9" width="6.8" height="77.3" rx="0.6" fill="#6fc274"/>
<rect x="912.6" y="647.4" width="6" height="49" rx="0.6" fill="#6fc274"/>
<rect x="920.1" y="648.5" width="5.4" height="23.2" rx="0.6" fill="#f0683a"/>
<rect x="927.7" y="631.3" width="5.8" height="40.8" rx="0.6" fill="#6fc274"/>
<text x="967.6" y="634.8" font-size="7.8" fill="#8a93a6" text-anchor="end" font-weight="normal" textLength="20.8" lengthAdjust="spacingAndGlyphs">20123</text>
<text x="967.6" y="672.4" font-size="7.8" fill="#8a93a6" text-anchor="end" font-weight="normal" textLength="20.8" lengthAdjust="spacingAndGlyphs">26913</text>
<text x="967.6" y="710" font-size="7.8" fill="#8a93a6" text-anchor="end" font-weight="normal" textLength="19.5" lengthAdjust="spacingAndGlyphs">1023</text>
<text x="967.6" y="749" font-size="7.8" fill="#8a93a6" text-anchor="end" font-weight="normal" textLength="20.8" lengthAdjust="spacingAndGlyphs">13316</text>
<text x="967.6" y="786.6" font-size="7.8" fill="#8a93a6" text-anchor="end" font-weight="normal" textLength="19.5" lengthAdjust="spacingAndGlyphs">1603</text>
<text x="967.6" y="824.2" font-size="7.8" fill="#8a93a6" text-anchor="end" font-weight="normal" textLength="19.5" lengthAdjust="spacingAndGlyphs">3303</text>
<text x="967.6" y="862.4" font-size="7.8" fill="#8a93a6" text-anchor="end" font-weight="normal" textLength="20.8" lengthAdjust="spacingAndGlyphs">23i20</text>
<text x="967.6" y="900.3" font-size="7.8" fill="#8a93a6" text-anchor="end" font-weight="normal" textLength="20.8" lengthAdjust="spacingAndGlyphs">20i23</text>
<text x="967.6" y="936.6" font-size="7.8" fill="#8a93a6" text-anchor="end" font-weight="normal" textLength="20.8" lengthAdjust="spacingAndGlyphs">20I00</text>
<text x="579.6" y="948.3" font-size="7.8" fill="#8a93a6" text-anchor="start" font-weight="normal" textLength="19.5" lengthAdjust="spacingAndGlyphs">2023</text>
<text x="639.5" y="948.3" font-size="7.8" fill="#8a93a6" text-anchor="start" font-weight="normal" textLength="19.8" lengthAdjust="spacingAndGlyphs">2023</text>
<text x="696.8" y="948.3" font-size="7.8" fill="#8a93a6" text-anchor="start" font-weight="normal" textLength="66.7" lengthAdjust="spacingAndGlyphs">12008R L0B8 3t2R</text>
<text x="800.6" y="948.3" font-size="7.8" fill="#8a93a6" text-anchor="start" font-weight="normal" textLength="19.5" lengthAdjust="spacingAndGlyphs">2028</text>
<text x="857.8" y="948.3" font-size="7.8" fill="#8a93a6" text-anchor="start" font-weight="normal" textLength="19.9" lengthAdjust="spacingAndGlyphs">S203</text>
<text x="913.9" y="948.3" font-size="7.8" fill="#8a93a6" text-anchor="start" font-weight="normal" textLength="23.4" lengthAdjust="spacingAndGlyphs">20200</text>
<text x="534.6" y="938.5" font-size="7.6" fill="#79839a" text-anchor="start" font-weight="normal" textLength="8" lengthAdjust="spacingAndGlyphs">D.</text>
<polygon points="460,342.8 476.9,342.8 489.2,381.5 501,342.8 517.7,342.8 496,401.5 481.5,401.5" fill="#070a13" stroke="#070a13" stroke-width="4.5" stroke-linejoin="round" opacity="0.9"/>
<polygon points="460,342.8 476.9,342.8 489.2,381.5 501,342.8 517.7,342.8 496,401.5 481.5,401.5" fill="#f5cb41"/>
<g transform="translate(522 400.6) scale(0.945 1)" font-weight="bold" font-size="81.2">
<text x="0" y="0" fill="#070a13" stroke="#070a13" stroke-width="7.6" stroke-linejoin="round" opacity="0.9">S</text>
<text id="vsS" x="0" y="0" fill="#f5cb41" stroke="#f5cb41" stroke-width="3" stroke-linejoin="round">S</text>
</g>
</svg>
</body></html>
